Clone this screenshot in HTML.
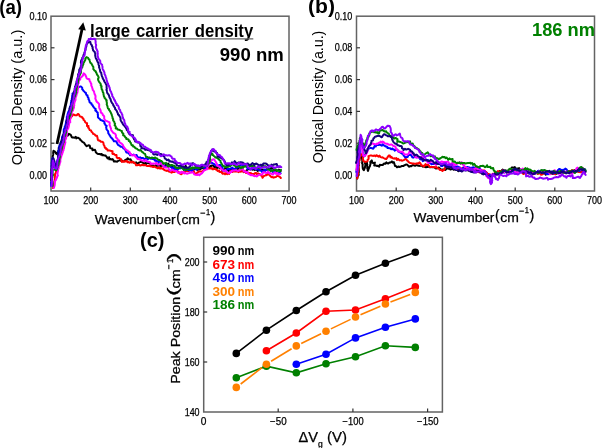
<!DOCTYPE html>
<html><head><meta charset="utf-8"><style>
html,body{margin:0;padding:0;background:#fff;width:602px;height:448px;overflow:hidden}
svg{display:block;will-change:transform}
text{font-family:"Liberation Sans", sans-serif}
text[font-weight=normal],g text:not([font-weight]){stroke:#000;stroke-width:0.25px}
</style></head><body>
<svg width="602" height="448" viewBox="0 0 602 448">
<rect x="51" y="16.2" width="238" height="174.8" fill="none" stroke="#636363" stroke-width="1.5"/>
<line x1="51" y1="175.0" x2="54.5" y2="175.0" stroke="#333" stroke-width="1.2"/>
<text x="47.1" y="178.6" font-size="10" font-weight="normal" fill="#000" text-anchor="end" textLength="17.6" lengthAdjust="spacingAndGlyphs" >0.00</text>
<line x1="51" y1="143.2" x2="54.5" y2="143.2" stroke="#333" stroke-width="1.2"/>
<text x="47.1" y="146.8" font-size="10" font-weight="normal" fill="#000" text-anchor="end" textLength="17.6" lengthAdjust="spacingAndGlyphs" >0.02</text>
<line x1="51" y1="111.4" x2="54.5" y2="111.4" stroke="#333" stroke-width="1.2"/>
<text x="47.1" y="115.0" font-size="10" font-weight="normal" fill="#000" text-anchor="end" textLength="17.6" lengthAdjust="spacingAndGlyphs" >0.04</text>
<line x1="51" y1="79.6" x2="54.5" y2="79.6" stroke="#333" stroke-width="1.2"/>
<text x="47.1" y="83.2" font-size="10" font-weight="normal" fill="#000" text-anchor="end" textLength="17.6" lengthAdjust="spacingAndGlyphs" >0.06</text>
<line x1="51" y1="47.8" x2="54.5" y2="47.8" stroke="#333" stroke-width="1.2"/>
<text x="47.1" y="51.4" font-size="10" font-weight="normal" fill="#000" text-anchor="end" textLength="17.6" lengthAdjust="spacingAndGlyphs" >0.08</text>
<text x="47.1" y="19.6" font-size="10" font-weight="normal" fill="#000" text-anchor="end" textLength="17.6" lengthAdjust="spacingAndGlyphs" >0.10</text>
<text x="51.0" y="204" font-size="10.2" font-weight="normal" fill="#000" text-anchor="middle" textLength="15.0" lengthAdjust="spacingAndGlyphs" >100</text>
<line x1="90.7" y1="191" x2="90.7" y2="187.5" stroke="#333" stroke-width="1.2"/>
<text x="90.7" y="204" font-size="10.2" font-weight="normal" fill="#000" text-anchor="middle" textLength="15.0" lengthAdjust="spacingAndGlyphs" >200</text>
<line x1="130.3" y1="191" x2="130.3" y2="187.5" stroke="#333" stroke-width="1.2"/>
<text x="130.3" y="204" font-size="10.2" font-weight="normal" fill="#000" text-anchor="middle" textLength="15.0" lengthAdjust="spacingAndGlyphs" >300</text>
<line x1="170.0" y1="191" x2="170.0" y2="187.5" stroke="#333" stroke-width="1.2"/>
<text x="170.0" y="204" font-size="10.2" font-weight="normal" fill="#000" text-anchor="middle" textLength="15.0" lengthAdjust="spacingAndGlyphs" >400</text>
<line x1="209.7" y1="191" x2="209.7" y2="187.5" stroke="#333" stroke-width="1.2"/>
<text x="209.7" y="204" font-size="10.2" font-weight="normal" fill="#000" text-anchor="middle" textLength="15.0" lengthAdjust="spacingAndGlyphs" >500</text>
<line x1="249.3" y1="191" x2="249.3" y2="187.5" stroke="#333" stroke-width="1.2"/>
<text x="249.3" y="204" font-size="10.2" font-weight="normal" fill="#000" text-anchor="middle" textLength="15.0" lengthAdjust="spacingAndGlyphs" >600</text>
<text x="289.0" y="204" font-size="10.2" font-weight="normal" fill="#000" text-anchor="middle" textLength="15.0" lengthAdjust="spacingAndGlyphs" >700</text>
<rect x="356.5" y="16.2" width="238.0" height="174.8" fill="none" stroke="#636363" stroke-width="1.5"/>
<line x1="356.5" y1="175.0" x2="360.0" y2="175.0" stroke="#333" stroke-width="1.2"/>
<text x="352.3" y="178.6" font-size="10" font-weight="normal" fill="#000" text-anchor="end" textLength="17.6" lengthAdjust="spacingAndGlyphs" >0.00</text>
<line x1="356.5" y1="143.2" x2="360.0" y2="143.2" stroke="#333" stroke-width="1.2"/>
<text x="352.3" y="146.8" font-size="10" font-weight="normal" fill="#000" text-anchor="end" textLength="17.6" lengthAdjust="spacingAndGlyphs" >0.02</text>
<line x1="356.5" y1="111.4" x2="360.0" y2="111.4" stroke="#333" stroke-width="1.2"/>
<text x="352.3" y="115.0" font-size="10" font-weight="normal" fill="#000" text-anchor="end" textLength="17.6" lengthAdjust="spacingAndGlyphs" >0.04</text>
<line x1="356.5" y1="79.6" x2="360.0" y2="79.6" stroke="#333" stroke-width="1.2"/>
<text x="352.3" y="83.2" font-size="10" font-weight="normal" fill="#000" text-anchor="end" textLength="17.6" lengthAdjust="spacingAndGlyphs" >0.06</text>
<line x1="356.5" y1="47.8" x2="360.0" y2="47.8" stroke="#333" stroke-width="1.2"/>
<text x="352.3" y="51.4" font-size="10" font-weight="normal" fill="#000" text-anchor="end" textLength="17.6" lengthAdjust="spacingAndGlyphs" >0.08</text>
<text x="352.3" y="19.6" font-size="10" font-weight="normal" fill="#000" text-anchor="end" textLength="17.6" lengthAdjust="spacingAndGlyphs" >0.10</text>
<text x="356.5" y="203.6" font-size="10.2" font-weight="normal" fill="#000" text-anchor="middle" textLength="15.0" lengthAdjust="spacingAndGlyphs" >100</text>
<line x1="396.2" y1="191" x2="396.2" y2="187.5" stroke="#333" stroke-width="1.2"/>
<text x="396.2" y="203.6" font-size="10.2" font-weight="normal" fill="#000" text-anchor="middle" textLength="15.0" lengthAdjust="spacingAndGlyphs" >200</text>
<line x1="435.8" y1="191" x2="435.8" y2="187.5" stroke="#333" stroke-width="1.2"/>
<text x="435.8" y="203.6" font-size="10.2" font-weight="normal" fill="#000" text-anchor="middle" textLength="15.0" lengthAdjust="spacingAndGlyphs" >300</text>
<line x1="475.5" y1="191" x2="475.5" y2="187.5" stroke="#333" stroke-width="1.2"/>
<text x="475.5" y="203.6" font-size="10.2" font-weight="normal" fill="#000" text-anchor="middle" textLength="15.0" lengthAdjust="spacingAndGlyphs" >400</text>
<line x1="515.2" y1="191" x2="515.2" y2="187.5" stroke="#333" stroke-width="1.2"/>
<text x="515.2" y="203.6" font-size="10.2" font-weight="normal" fill="#000" text-anchor="middle" textLength="15.0" lengthAdjust="spacingAndGlyphs" >500</text>
<line x1="554.8" y1="191" x2="554.8" y2="187.5" stroke="#333" stroke-width="1.2"/>
<text x="554.8" y="203.6" font-size="10.2" font-weight="normal" fill="#000" text-anchor="middle" textLength="15.0" lengthAdjust="spacingAndGlyphs" >600</text>
<text x="594.5" y="203.6" font-size="10.2" font-weight="normal" fill="#000" text-anchor="middle" textLength="15.0" lengthAdjust="spacingAndGlyphs" >700</text>
<text x="0" y="0" font-size="15" text-anchor="middle" textLength="135.4" lengthAdjust="spacingAndGlyphs" transform="translate(21.8,97.5) rotate(-90)">Optical Density (a.u.)</text>
<text x="0" y="0" font-size="15" text-anchor="middle" textLength="132.7" lengthAdjust="spacingAndGlyphs" transform="translate(323.2,97.0) rotate(-90)">Optical Density (a.u.)</text>
<g transform="translate(0,0)">
<text x="94.8" y="223.9" font-size="13.5" font-weight="normal" fill="#000" text-anchor="start" textLength="80.8" lengthAdjust="spacingAndGlyphs" >Wavenumber</text>
<text x="176.3" y="221.7" font-size="13.8" font-weight="normal" fill="#000" text-anchor="start" >(</text>
<text x="181.4" y="223.9" font-size="13.5" font-weight="normal" fill="#000" text-anchor="start" textLength="18.6" lengthAdjust="spacingAndGlyphs" >cm</text>
<rect x="200.4" y="212.6" width="4.7" height="1.1" fill="#000"/>
<text x="206.0" y="214.9" font-size="8.2" font-weight="normal" fill="#000" text-anchor="start" textLength="4.2" lengthAdjust="spacingAndGlyphs" >1</text>
<text x="210.6" y="221.8" font-size="14.4" font-weight="normal" fill="#000" text-anchor="start" >)</text>
</g>
<g transform="translate(318.8,-2)">
<text x="94.8" y="223.9" font-size="13.5" font-weight="normal" fill="#000" text-anchor="start" textLength="80.8" lengthAdjust="spacingAndGlyphs" >Wavenumber</text>
<text x="176.3" y="221.7" font-size="13.8" font-weight="normal" fill="#000" text-anchor="start" >(</text>
<text x="181.4" y="223.9" font-size="13.5" font-weight="normal" fill="#000" text-anchor="start" textLength="18.6" lengthAdjust="spacingAndGlyphs" >cm</text>
<rect x="200.4" y="212.6" width="4.7" height="1.1" fill="#000"/>
<text x="206.0" y="214.9" font-size="8.2" font-weight="normal" fill="#000" text-anchor="start" textLength="4.2" lengthAdjust="spacingAndGlyphs" >1</text>
<text x="210.6" y="221.8" font-size="14.4" font-weight="normal" fill="#000" text-anchor="start" >)</text>
</g>
<text x="-0.8" y="14.1" font-size="20" font-weight="bold" fill="#000" text-anchor="start" textLength="22.8" lengthAdjust="spacingAndGlyphs" >(a)</text>
<text x="308" y="13.2" font-size="20" font-weight="bold" fill="#000" text-anchor="start" textLength="27" lengthAdjust="spacingAndGlyphs" >(b)</text>
<text x="140" y="246.8" font-size="20" font-weight="bold" fill="#000" text-anchor="start" >(c)</text>
<text x="90.0" y="37.2" font-size="18.5" font-weight="bold" fill="#000" text-anchor="start" textLength="40.2" lengthAdjust="spacingAndGlyphs" >large</text>
<text x="136.0" y="37.2" font-size="18.5" font-weight="bold" fill="#000" text-anchor="start" textLength="52.2" lengthAdjust="spacingAndGlyphs" >carrier</text>
<text x="194.8" y="37.2" font-size="18.5" font-weight="bold" fill="#000" text-anchor="start" textLength="58.4" lengthAdjust="spacingAndGlyphs" >density</text>
<line x1="91" y1="38.9" x2="253.3" y2="38.9" stroke="#666" stroke-width="1.4"/>
<text x="219.8" y="61" font-size="17.5" font-weight="bold" fill="#000" text-anchor="start" textLength="64" lengthAdjust="spacingAndGlyphs" >990 nm</text>
<text x="532" y="35.6" font-size="17.5" font-weight="bold" fill="#008000" text-anchor="start" textLength="63" lengthAdjust="spacingAndGlyphs" >186 nm</text>
<g fill="none" stroke-width="2" stroke-linejoin="round" stroke-linecap="round">
<path d="M51.1,180.0 L51.2,179.0 L51.4,178.0 L51.2,177.0 L51.4,176.0 L51.5,175.0 L51.7,174.0 L51.4,173.0 L51.5,172.0 L51.6,171.0 L51.4,170.0 L51.5,169.0 L51.9,168.0 L52.0,167.0 L52.4,166.0 L52.3,165.0 L52.4,164.0 L52.8,163.0 L52.6,162.0 L52.6,161.0 L52.4,160.0 L52.3,159.0 L52.8,158.0 L52.6,157.0 L52.8,156.0 L53.1,155.0 L53.3,154.1 L53.2,153.1 L53.2,152.1 L53.5,150.8 L54.7,151.4 L55.4,152.3 L55.9,153.3 L57.4,154.3 L57.4,152.4 L58.2,151.7 L58.3,150.6 L58.6,149.7 L58.7,148.7 L58.8,147.6 L59.6,146.9 L59.8,145.9 L59.8,144.8 L60.7,144.1 L60.5,142.9 L60.9,142.0 L61.3,141.0 L61.6,139.9 L62.9,139.5 L63.0,138.4 L64.1,137.9 L64.4,136.8 L65.3,135.9 L66.5,135.2 L67.7,135.7 L68.9,133.8 L69.9,134.3 L70.9,135.1 L71.6,136.9 L72.5,137.6 L73.5,137.5 L74.5,137.7 L75.8,136.8 L76.3,138.4 L77.8,137.7 L78.7,138.2 L79.7,138.6 L80.2,139.8 L81.1,140.3 L81.7,141.2 L82.4,141.9 L83.3,142.3 L84.1,142.8 L84.7,143.8 L85.3,144.6 L85.9,145.5 L86.7,146.2 L88.4,145.3 L89.6,145.4 L90.0,146.6 L90.2,148.1 L91.2,148.4 L92.4,148.4 L92.5,150.2 L93.7,150.1 L95.0,149.8 L95.5,150.9 L95.8,152.3 L96.6,153.0 L97.4,153.6 L98.3,154.1 L99.6,153.9 L100.4,154.5 L101.8,154.0 L102.3,155.3 L103.5,155.1 L104.4,155.5 L105.5,155.5 L106.2,156.3 L106.9,157.2 L107.5,158.4 L109.1,157.2 L109.3,159.3 L110.5,158.9 L111.4,159.6 L112.6,159.1 L113.3,160.0 L114.0,161.6 L115.1,161.3 L116.2,161.4 L117.1,161.7 L118.3,160.8 L119.4,160.4 L120.5,159.9 L121.3,161.1 L122.4,160.7 L123.3,161.4 L124.3,160.9 L125.5,159.8 L126.4,160.1 L127.6,158.2 L128.5,159.2 L129.5,159.4 L130.5,159.3 L131.3,160.9 L132.3,161.8 L133.2,162.6 L134.2,162.5 L135.2,163.1 L136.2,162.3 L137.1,163.4 L138.1,163.5 L139.2,162.4 L140.2,162.1 L141.3,161.3 L142.2,162.4 L143.2,163.0 L144.1,163.8 L145.2,162.9 L146.1,164.1 L147.4,162.8 L148.4,163.1 L149.4,163.2 L150.4,163.4 L150.9,165.3 L151.8,165.8 L153.0,165.3 L153.7,166.4 L154.8,166.2 L155.9,165.3 L156.8,166.3 L158.1,164.2 L158.9,165.8 L160.1,164.4 L160.9,166.2 L162.0,165.5 L163.0,165.1 L163.8,166.6 L164.9,166.1 L166.1,164.5 L167.1,164.9 L168.2,163.5 L169.0,165.3 L170.0,165.2 L170.9,166.2 L171.9,165.9 L172.7,167.6 L173.7,167.7 L174.6,169.2 L175.6,169.3 L176.6,169.8 L177.7,168.2 L178.7,168.4 L179.7,167.5 L180.7,167.7 L181.7,166.6 L182.7,166.8 L183.7,167.3 L184.7,167.2 L185.7,165.9 L186.7,168.0 L187.7,169.5 L188.7,169.4 L189.7,168.7 L190.7,169.7 L191.7,170.1 L192.7,169.6 L193.7,169.9 L194.7,168.7 L195.7,168.7 L196.7,168.8 L197.7,169.9 L198.7,169.2 L199.7,169.6 L200.6,168.9 L201.6,168.0 L202.5,167.9 L203.7,168.8 L204.4,167.2 L205.3,166.8 L206.5,167.7 L207.0,166.7 L207.9,166.5 L209.7,167.3 L210.0,166.1 L211.2,166.2 L211.8,165.5 L212.7,165.6 L213.5,165.9 L214.2,166.9 L214.9,167.5 L216.3,166.7 L216.9,168.2 L218.2,167.4 L219.3,167.5 L220.1,168.1 L221.2,168.2 L222.0,168.8 L222.3,170.6 L223.7,169.8 L225.0,168.7 L225.9,167.7 L226.8,169.7 L227.8,170.0 L228.8,171.4 L229.8,169.7 L230.8,169.2 L231.8,169.4 L232.8,169.8 L233.8,169.8 L234.8,169.0 L235.8,168.6 L236.8,168.7 L237.8,169.0 L238.8,167.8 L239.8,167.7 L240.8,168.8 L241.8,169.6 L242.8,170.4 L243.8,172.1 L244.8,171.6 L245.8,171.1 L246.8,170.2 L247.8,169.3 L248.8,169.2 L249.8,169.3 L250.8,168.9 L251.8,169.4 L252.8,169.7 L253.8,169.2 L254.8,170.1 L255.8,169.1 L256.8,170.1 L257.7,170.9 L258.8,170.0 L259.8,169.8 L260.8,169.8 L261.8,169.8 L262.8,169.6 L263.8,169.8 L264.8,170.7 L265.8,169.8 L266.8,169.3 L267.8,169.5 L268.8,168.6 L269.8,168.7 L270.8,168.9 L271.9,168.0 L272.9,168.0 L273.8,170.0 L274.8,170.3 L275.7,170.9 L276.8,170.2 L277.8,170.6 L278.8,169.6 L279.8,170.2 L280.7,171.0" stroke="#000000"/>
<path d="M53.0,188.1 L53.3,187.1 L53.4,186.1 L53.5,185.1 L53.8,184.2 L54.2,183.2 L54.4,182.2 L54.4,181.2 L54.8,180.3 L54.7,179.2 L54.8,178.2 L54.8,177.2 L54.9,176.2 L55.1,175.2 L54.9,174.1 L55.7,173.3 L55.9,172.3 L56.1,171.3 L56.7,170.4 L57.0,169.5 L57.4,168.6 L57.2,167.5 L57.9,166.6 L58.3,165.7 L58.8,164.8 L59.1,163.8 L59.3,162.8 L59.1,161.8 L59.0,160.7 L59.7,159.8 L59.8,158.9 L60.2,157.9 L60.2,156.9 L60.3,155.9 L60.0,154.8 L60.5,153.9 L60.7,152.9 L61.3,152.0 L61.8,151.1 L62.2,150.2 L62.6,149.3 L62.9,148.3 L63.3,147.3 L63.4,146.3 L63.3,145.3 L63.4,144.3 L63.9,143.4 L63.8,142.3 L64.2,141.4 L64.3,140.4 L64.5,139.4 L64.8,138.4 L65.1,137.5 L65.3,136.5 L65.6,135.6 L65.4,134.5 L65.8,133.6 L66.1,132.6 L66.5,131.7 L66.1,130.6 L66.8,129.7 L66.8,128.7 L67.2,127.7 L67.3,126.7 L67.7,125.8 L68.0,124.9 L67.9,123.8 L68.2,122.9 L68.5,121.9 L68.6,120.9 L69.2,120.1 L69.6,119.1 L70.0,118.2 L70.9,117.7 L71.4,116.8 L72.2,116.1 L72.6,115.0 L73.5,114.4 L75.2,115.3 L76.2,115.3 L76.9,115.2 L77.5,114.2 L78.3,113.9 L78.9,114.6 L79.4,115.5 L79.9,116.4 L81.0,116.7 L82.2,117.1 L82.5,118.1 L83.4,118.7 L83.5,119.8 L84.4,120.5 L84.9,121.3 L85.3,122.3 L86.1,122.9 L87.1,123.3 L87.0,124.7 L87.0,125.9 L88.5,126.1 L88.1,127.7 L89.0,128.2 L89.3,129.3 L89.8,130.1 L91.1,130.4 L91.3,131.5 L92.1,132.2 L92.7,132.9 L93.1,133.9 L94.4,134.2 L95.0,134.9 L95.6,135.8 L97.0,135.8 L97.3,136.9 L97.6,138.0 L97.7,139.2 L98.1,140.2 L99.2,140.5 L100.2,141.0 L100.9,141.7 L102.3,141.8 L103.2,142.3 L103.5,143.4 L103.6,144.7 L104.2,145.5 L104.6,146.4 L104.8,147.7 L105.9,148.0 L106.1,149.1 L107.4,149.3 L107.6,150.5 L109.2,150.4 L110.4,150.7 L111.3,151.1 L112.6,151.2 L112.3,152.9 L112.6,154.0 L114.0,153.8 L114.6,154.7 L115.4,155.1 L116.5,155.0 L116.6,157.2 L117.4,158.2 L118.5,158.0 L119.5,158.1 L120.2,159.2 L121.2,159.3 L121.4,161.0 L122.0,162.0 L123.5,161.0 L124.2,161.8 L125.7,161.3 L127.0,160.9 L127.4,162.3 L128.6,162.1 L129.5,162.7 L130.9,161.6 L131.7,162.5 L132.9,161.7 L133.7,162.7 L134.6,162.9 L135.5,163.8 L136.1,165.3 L137.2,165.3 L138.2,165.1 L139.4,164.5 L140.2,165.6 L141.3,165.2 L142.4,164.7 L143.3,165.3 L144.4,165.1 L145.3,165.3 L146.3,165.5 L147.2,166.1 L148.3,166.0 L149.4,165.5 L150.2,166.3 L151.2,166.5 L152.2,166.5 L153.1,167.1 L154.3,166.4 L155.2,166.7 L156.1,167.6 L157.1,167.8 L158.0,168.4 L159.2,167.2 L160.0,168.6 L161.2,167.8 L162.0,168.7 L163.1,168.4 L163.8,169.7 L164.8,170.2 L165.7,170.4 L166.6,170.9 L167.8,170.4 L168.6,171.3 L169.6,171.8 L170.6,171.6 L171.4,172.6 L172.6,172.0 L173.6,171.8 L174.6,172.0 L175.7,171.2 L176.8,171.1 L177.7,171.2 L178.6,172.4 L179.6,173.1 L180.5,174.0 L181.5,174.3 L182.6,172.6 L183.6,172.5 L184.6,172.4 L185.6,171.0 L186.6,170.8 L187.6,171.2 L188.6,171.0 L189.6,170.8 L190.5,170.0 L191.5,169.7 L192.6,170.8 L193.6,171.1 L194.6,172.8 L195.7,174.1 L196.7,173.2 L197.6,172.3 L198.6,171.7 L199.6,171.4 L200.6,171.4 L201.6,171.5 L202.6,171.7 L203.3,170.4 L204.2,170.1 L205.1,169.7 L205.7,168.6 L206.5,168.4 L207.6,168.6 L208.8,168.6 L210.1,168.6 L210.9,168.0 L211.8,168.3 L212.2,169.2 L212.8,168.3 L213.3,169.2 L214.3,168.9 L215.5,168.7 L216.1,169.8 L217.1,170.0 L217.6,170.9 L219.1,170.4 L219.2,171.7 L220.2,172.0 L221.8,171.7 L222.0,173.1 L222.7,173.8 L224.3,173.2 L225.0,174.3 L226.2,172.9 L227.1,174.1 L227.9,173.1 L229.1,173.9 L229.6,172.2 L230.2,171.0 L231.5,171.7 L232.7,172.0 L233.2,170.6 L234.7,171.6 L235.7,171.5 L236.6,171.2 L237.7,171.6 L238.7,172.1 L239.5,170.6 L240.4,171.7 L241.3,171.6 L242.5,170.4 L243.2,171.8 L244.2,172.0 L245.5,171.0 L245.9,173.0 L247.1,172.6 L248.1,172.6 L248.9,173.5 L250.1,173.0 L251.1,173.2 L251.9,173.9 L252.9,174.0 L253.9,174.1 L255.2,173.1 L256.1,172.9 L256.9,174.1 L258.0,173.2 L258.9,174.1 L259.9,174.1 L260.8,175.4 L261.8,175.8 L262.6,177.8 L263.8,176.0 L264.8,175.8 L265.9,175.0 L266.8,175.2 L268.0,173.5 L268.9,174.6 L269.8,175.4 L270.8,176.7 L271.7,177.2 L272.7,177.1 L273.7,177.7 L274.8,177.2 L275.8,177.1 L276.8,176.1 L277.8,175.7 L278.8,176.4 L279.8,176.8 L280.8,178.0" stroke="#ff0000"/>
<path d="M51.2,186.0 L51.1,185.0 L51.1,184.0 L51.1,183.0 L51.2,182.0 L51.9,181.0 L52.1,180.0 L52.2,179.0 L51.8,178.0 L51.8,177.0 L52.1,176.0 L51.6,175.0 L51.6,174.0 L51.4,173.0 L51.6,172.0 L51.6,171.0 L51.9,170.0 L51.7,169.0 L51.8,168.0 L51.5,167.0 L51.7,166.0 L51.6,165.0 L51.6,164.0 L51.5,163.0 L52.0,162.0 L51.8,161.0 L52.2,160.0 L52.2,159.0 L52.7,158.1 L53.2,158.8 L52.8,157.9 L53.0,158.8 L53.3,159.8 L53.5,160.8 L53.7,161.7 L54.2,162.6 L54.6,163.6 L55.0,164.5 L55.5,165.0 L55.0,165.1 L56.0,164.8 L56.1,163.8 L56.7,162.9 L57.0,161.9 L57.1,161.0 L57.8,160.1 L57.8,159.1 L58.3,158.2 L58.6,157.2 L58.4,156.1 L58.4,155.1 L58.4,154.1 L58.8,153.2 L58.4,152.0 L58.4,151.0 L59.0,150.1 L59.2,149.1 L59.4,148.1 L59.3,147.1 L59.3,146.1 L59.9,145.2 L60.3,144.3 L60.7,143.3 L61.2,142.4 L61.6,141.5 L62.0,140.5 L62.0,139.5 L62.0,138.5 L62.0,137.5 L62.3,136.5 L63.0,135.7 L63.4,134.7 L63.8,133.8 L63.7,132.7 L63.7,131.7 L63.8,130.7 L63.8,129.7 L64.2,128.7 L64.7,127.8 L64.7,126.8 L65.1,125.9 L65.5,124.9 L65.7,123.9 L66.0,123.0 L65.9,122.0 L66.3,121.0 L66.5,120.0 L66.8,119.1 L66.8,118.0 L66.8,117.0 L67.3,116.1 L67.4,115.1 L67.6,114.1 L67.9,113.2 L68.3,112.2 L68.6,111.3 L69.3,110.4 L69.5,109.4 L69.6,108.4 L69.9,107.5 L70.1,106.5 L70.5,105.6 L70.9,104.6 L70.9,103.6 L71.0,102.6 L71.3,101.6 L71.3,100.6 L71.9,99.7 L71.8,98.7 L72.2,97.7 L72.1,96.7 L72.2,95.7 L72.4,94.7 L72.5,93.7 L73.6,93.0 L74.2,92.3 L74.8,91.5 L75.1,90.5 L75.1,89.3 L75.7,88.4 L76.2,87.4 L77.7,87.6 L78.4,86.8 L79.5,86.9 L80.6,86.4 L81.6,87.0 L82.3,88.0 L82.2,89.2 L83.0,89.9 L83.4,90.8 L84.3,91.5 L84.9,92.3 L85.9,92.9 L86.0,93.9 L86.4,94.8 L87.5,95.3 L87.5,96.5 L88.0,97.4 L88.6,98.1 L88.5,99.4 L89.2,100.2 L89.4,101.2 L89.6,102.2 L90.5,102.9 L91.5,103.4 L91.5,104.6 L92.6,105.1 L92.9,106.1 L93.5,106.9 L94.1,107.7 L94.9,108.4 L95.7,109.1 L95.3,110.5 L96.3,111.0 L96.7,111.9 L97.7,112.5 L97.7,113.7 L97.8,114.8 L98.0,115.9 L97.9,117.2 L98.5,117.9 L99.3,118.6 L100.1,119.3 L100.6,120.1 L102.0,120.4 L102.9,121.0 L104.1,121.4 L104.5,122.4 L104.4,123.6 L105.2,124.3 L105.6,125.3 L106.7,125.8 L106.1,127.3 L106.4,128.3 L106.5,129.4 L107.2,130.1 L107.9,130.9 L108.3,131.8 L108.2,132.9 L108.7,133.8 L109.4,134.6 L109.7,135.6 L110.4,136.3 L110.7,137.3 L111.6,138.0 L112.4,138.6 L112.7,139.6 L113.5,140.3 L113.9,141.3 L115.4,141.3 L116.5,141.5 L116.7,142.6 L117.3,143.4 L117.7,144.5 L118.5,145.2 L119.5,145.4 L120.1,146.3 L121.0,146.8 L122.2,146.8 L122.9,147.6 L123.4,148.5 L124.6,148.7 L125.1,149.6 L125.6,150.7 L126.0,151.7 L126.6,152.6 L128.0,152.4 L128.6,153.4 L129.4,154.0 L130.1,155.2 L131.3,154.9 L132.3,155.1 L133.6,154.6 L134.4,155.3 L135.4,155.6 L136.6,155.0 L137.2,156.3 L138.0,157.3 L138.9,157.8 L140.1,157.3 L140.9,158.0 L142.0,157.9 L143.0,157.9 L143.8,158.8 L144.8,158.9 L146.1,158.1 L146.9,158.7 L147.8,159.4 L149.4,157.5 L150.1,158.5 L151.1,158.8 L152.2,158.7 L153.1,159.0 L154.1,159.0 L154.8,160.5 L155.8,160.3 L156.5,161.7 L157.7,161.2 L158.5,162.0 L159.6,161.8 L160.9,161.1 L161.5,162.4 L161.9,164.4 L162.7,165.2 L163.5,165.7 L164.6,165.6 L165.2,166.9 L166.2,167.2 L167.8,165.5 L168.8,165.8 L169.7,166.3 L170.6,166.8 L171.4,167.7 L172.3,168.0 L173.5,167.4 L174.1,169.2 L175.0,169.9 L176.2,169.4 L177.0,170.2 L178.5,168.3 L179.5,168.0 L180.5,168.4 L181.6,167.1 L182.5,167.3 L183.4,169.0 L184.4,168.3 L185.4,170.3 L186.4,169.5 L187.4,169.3 L188.4,170.2 L189.4,170.0 L190.4,170.2 L191.5,170.9 L192.5,170.2 L193.4,169.0 L194.3,168.5 L195.3,168.4 L196.5,169.8 L197.3,168.4 L198.4,168.5 L199.3,168.2 L200.1,167.0 L201.0,166.6 L201.9,166.5 L203.4,167.6 L204.7,168.2 L205.6,167.6 L206.2,166.5 L207.2,166.3 L208.0,165.4 L208.3,164.2 L208.9,163.3 L210.1,163.2 L210.6,162.1 L211.8,162.8 L212.5,163.2 L213.2,163.6 L214.0,164.0 L214.7,164.7 L215.4,165.3 L216.5,165.4 L217.6,165.6 L219.1,165.1 L220.5,165.1 L221.0,166.1 L221.7,166.8 L222.5,167.3 L222.5,169.0 L222.9,170.5 L224.2,170.8 L225.5,170.6 L226.5,170.5 L227.4,169.1 L228.3,168.9 L229.5,169.4 L230.3,168.6 L231.4,168.6 L232.1,167.6 L233.4,168.7 L234.5,168.8 L235.6,169.2 L236.2,167.5 L237.2,167.4 L238.1,167.2 L239.1,166.6 L240.1,165.2 L241.1,164.9 L242.2,164.4 L243.1,166.6 L244.2,165.6 L245.2,165.9 L246.2,166.1 L247.0,167.4 L247.7,168.8 L248.8,168.6 L249.8,168.5 L250.7,169.3 L251.9,168.6 L252.9,168.3 L254.0,168.3 L254.9,168.9 L255.9,168.9 L256.8,169.5 L257.9,169.1 L258.8,169.6 L259.7,170.4 L260.7,170.5 L261.6,171.3 L262.5,172.4 L263.7,170.4 L264.8,169.4 L265.7,170.5 L266.8,169.4 L267.8,169.8 L268.9,168.8 L269.8,169.8 L270.8,169.9 L271.7,170.4 L272.6,171.8 L273.6,172.6 L274.6,172.1 L275.6,171.9 L276.6,172.7 L277.6,172.9 L278.6,172.9 L279.6,172.7 L280.6,173.4" stroke="#0000ff"/>
<path d="M53.7,188.0 L54.1,187.1 L54.4,186.1 L54.7,185.2 L54.8,184.2 L54.8,183.1 L54.8,182.1 L55.0,181.1 L55.7,180.3 L56.2,179.3 L56.5,178.4 L57.0,177.5 L57.1,176.5 L57.9,175.6 L57.5,174.5 L57.5,173.5 L57.6,172.5 L57.8,171.5 L58.1,170.5 L57.9,169.5 L58.6,168.6 L58.6,167.6 L58.8,166.6 L59.2,165.7 L59.5,164.7 L59.6,163.7 L59.9,162.8 L60.4,161.8 L60.3,160.8 L60.4,159.8 L60.4,158.8 L60.9,157.8 L61.2,156.9 L61.4,155.9 L61.7,155.0 L62.2,154.1 L62.4,153.1 L62.8,152.1 L62.9,151.1 L63.5,150.3 L63.5,149.2 L64.0,148.3 L64.1,147.3 L64.3,146.3 L64.5,145.3 L64.9,144.4 L65.1,143.4 L65.4,142.5 L65.2,141.4 L65.1,140.3 L65.5,139.4 L66.0,138.5 L66.2,137.5 L66.2,136.5 L66.6,135.6 L66.9,134.6 L66.7,133.5 L66.6,132.5 L66.7,131.5 L66.9,130.5 L67.4,129.6 L67.9,128.7 L68.5,127.8 L68.5,126.8 L68.9,125.8 L69.0,124.8 L69.2,123.9 L69.4,122.9 L70.3,122.1 L70.0,121.0 L70.2,120.0 L70.3,119.0 L70.4,118.0 L70.9,117.1 L71.2,116.1 L71.4,115.1 L71.5,114.1 L71.9,113.2 L71.5,112.1 L72.4,111.2 L73.0,110.4 L73.2,109.4 L73.5,108.4 L74.0,107.5 L73.9,106.5 L74.3,105.5 L74.1,104.5 L74.3,103.5 L74.5,102.5 L74.8,101.5 L75.3,100.6 L75.5,99.7 L75.5,98.6 L75.4,97.6 L76.0,96.7 L76.3,95.7 L76.6,94.8 L76.7,93.8 L77.3,92.9 L77.5,91.9 L77.6,90.9 L77.7,89.9 L77.9,88.9 L78.2,87.9 L78.4,86.9 L77.9,85.9 L77.9,84.9 L77.8,83.8 L78.8,83.0 L78.3,81.9 L78.9,81.0 L79.3,80.1 L80.2,79.4 L80.3,78.4 L80.6,77.5 L81.6,77.1 L82.1,76.2 L82.9,75.6 L83.6,73.4 L85.1,74.5 L85.7,75.9 L86.2,76.7 L86.4,77.9 L87.1,78.7 L88.2,78.9 L89.4,79.3 L89.5,80.5 L89.9,81.4 L90.5,82.2 L90.8,83.1 L91.4,84.0 L91.2,85.1 L91.5,86.0 L92.0,86.9 L92.2,87.9 L92.6,88.8 L92.7,89.9 L93.4,90.7 L94.0,91.5 L94.2,92.5 L94.5,93.5 L94.7,94.4 L95.3,95.3 L95.5,96.3 L95.5,97.3 L95.3,98.5 L95.7,99.4 L96.2,100.3 L96.4,101.3 L97.1,102.1 L98.1,102.8 L98.7,103.6 L99.2,104.5 L99.2,105.6 L99.1,106.7 L99.3,107.7 L99.6,108.6 L100.2,109.4 L100.5,110.4 L100.8,111.4 L100.8,112.5 L101.9,113.1 L102.5,113.8 L102.7,114.9 L103.6,115.6 L104.2,116.4 L104.2,117.7 L104.3,118.8 L104.7,119.7 L105.3,120.4 L106.2,120.9 L107.4,121.3 L108.5,121.8 L109.6,122.4 L109.7,123.5 L109.5,124.6 L109.8,125.6 L110.3,126.5 L110.5,127.5 L111.0,128.4 L111.1,129.4 L111.3,130.4 L112.0,131.2 L112.6,132.0 L113.3,132.8 L114.4,133.4 L115.4,134.0 L115.7,134.9 L116.0,135.8 L115.8,137.0 L116.4,137.9 L117.2,138.4 L117.7,139.4 L117.6,140.7 L119.2,140.6 L119.2,141.9 L120.0,142.6 L120.8,143.2 L121.7,143.7 L122.4,144.5 L123.0,145.2 L123.4,146.2 L123.9,147.2 L124.5,148.0 L125.3,148.6 L125.7,149.6 L126.7,150.1 L127.7,150.4 L128.0,151.6 L129.2,151.8 L129.9,152.5 L130.0,154.0 L131.2,154.1 L131.5,155.3 L132.7,155.5 L134.2,155.0 L135.1,155.5 L135.4,156.8 L136.2,157.4 L136.9,158.2 L137.6,159.0 L138.8,159.1 L139.7,159.5 L140.6,159.8 L141.5,160.4 L142.5,160.7 L143.7,160.2 L144.4,161.3 L145.8,160.0 L146.6,161.0 L147.4,161.8 L148.4,161.8 L149.4,161.9 L150.3,162.6 L151.0,164.0 L152.1,163.7 L153.2,163.4 L154.1,163.9 L155.2,163.5 L156.4,162.8 L157.1,164.2 L158.0,164.7 L159.1,164.6 L160.5,163.7 L161.9,163.0 L162.3,164.7 L163.2,165.1 L163.7,166.6 L164.3,167.6 L165.4,167.5 L166.7,167.2 L167.8,167.1 L168.5,168.0 L168.9,169.5 L169.8,170.1 L170.6,170.7 L172.1,169.6 L173.0,170.1 L173.8,170.8 L174.9,170.7 L175.8,171.1 L176.8,171.1 L177.5,172.2 L178.3,173.1 L179.6,172.0 L180.3,173.2 L181.6,171.8 L182.4,172.8 L183.4,171.9 L184.3,173.5 L185.2,173.3 L186.2,173.3 L187.2,173.8 L188.2,173.4 L189.2,173.0 L190.2,172.5 L191.2,172.7 L192.2,172.1 L193.2,172.6 L194.3,174.4 L195.3,174.7 L196.3,174.7 L197.3,175.1 L198.3,174.2 L199.4,175.3 L200.3,174.1 L201.4,173.7 L202.2,173.0 L202.8,171.9 L203.5,171.2 L204.1,170.5 L205.0,170.1 L205.9,169.6 L207.1,169.3 L207.5,168.3 L207.2,167.1 L207.9,166.4 L208.7,165.6 L208.9,164.6 L209.5,163.8 L209.8,162.8 L210.3,161.9 L211.1,161.3 L211.4,160.4 L212.2,159.7 L213.8,159.2 L214.7,160.1 L215.2,161.2 L215.9,161.9 L216.2,163.0 L216.9,163.7 L216.7,165.1 L217.4,165.9 L218.5,166.2 L219.4,166.8 L220.3,167.3 L220.8,168.2 L221.2,169.2 L222.3,169.5 L222.9,170.3 L223.7,170.8 L225.3,170.1 L225.5,171.1 L226.1,171.0 L226.7,172.0 L227.7,172.8 L228.7,172.8 L229.8,173.0 L230.4,171.7 L231.6,171.9 L232.1,170.5 L233.1,170.4 L234.3,170.6 L235.2,170.2 L236.3,170.2 L237.4,170.8 L238.3,170.9 L239.1,170.6 L240.0,169.2 L240.8,169.8 L242.1,168.7 L243.1,169.0 L243.5,170.8 L244.1,171.6 L245.4,171.2 L245.8,172.5 L247.3,171.9 L247.9,172.8 L248.4,174.1 L249.4,174.3 L250.3,174.8 L251.2,175.3 L252.5,174.9 L253.3,175.7 L254.3,176.2 L255.5,175.9 L256.5,176.5 L257.6,175.9 L258.5,174.9 L259.4,174.7 L260.4,174.7 L261.4,174.4 L262.4,174.6 L262.9,172.5 L263.9,172.2 L265.0,172.6 L266.2,173.0 L267.2,172.7 L268.0,171.4 L269.3,173.5 L270.3,173.2 L271.3,173.4 L272.3,174.5 L273.2,174.4 L274.3,172.8 L275.3,172.4 L276.2,174.0 L277.3,172.7 L278.2,174.6 L279.2,174.3 L280.2,174.0" stroke="#ff00ff"/>
<path d="M52.5,186.0 L52.6,185.0 L52.4,184.0 L52.6,183.0 L52.5,182.0 L52.2,181.0 L52.1,180.0 L51.8,179.0 L51.8,178.0 L52.5,177.0 L52.4,176.0 L52.9,175.0 L52.6,174.0 L52.7,173.0 L52.5,172.0 L52.6,171.0 L52.8,170.0 L52.5,169.0 L52.3,168.0 L53.0,167.0 L52.7,166.0 L52.8,165.0 L52.8,164.0 L52.6,161.6 L53.6,163.8 L53.9,164.7 L54.3,165.7 L54.4,166.7 L54.7,167.6 L54.9,168.6 L54.9,169.9 L56.3,170.3 L56.9,169.1 L57.0,168.1 L57.6,167.2 L57.4,166.1 L58.3,165.3 L58.6,164.3 L58.7,163.4 L58.7,162.3 L59.2,161.4 L59.3,160.4 L59.4,159.4 L59.6,158.4 L59.8,157.4 L60.2,156.5 L59.8,155.4 L60.0,154.4 L60.3,153.4 L60.2,152.4 L60.7,151.5 L61.3,150.6 L61.4,149.6 L61.8,148.7 L61.8,147.6 L62.3,146.7 L62.2,145.7 L62.6,144.7 L63.0,143.8 L63.3,142.8 L63.8,141.9 L63.9,140.9 L63.9,139.9 L64.2,138.9 L64.2,137.9 L64.2,136.9 L65.0,136.1 L65.3,135.1 L65.4,134.1 L65.7,133.1 L66.3,132.3 L66.1,131.2 L66.0,130.1 L66.0,129.1 L66.5,128.2 L66.2,127.1 L66.3,126.1 L67.2,125.3 L67.5,124.3 L67.6,123.3 L67.9,122.3 L67.8,121.3 L68.2,120.4 L68.4,119.4 L69.0,118.5 L69.3,117.6 L69.5,116.6 L70.0,115.7 L70.5,114.8 L70.6,113.8 L70.6,112.7 L71.0,111.8 L71.4,110.8 L71.9,109.9 L72.0,108.9 L72.4,108.0 L72.3,107.0 L72.3,105.9 L72.3,104.9 L72.4,103.9 L72.6,102.9 L72.9,102.0 L73.1,101.0 L73.3,100.0 L73.8,99.1 L74.1,98.1 L74.4,97.2 L74.9,96.3 L75.1,95.3 L75.6,94.4 L75.5,93.3 L76.3,92.5 L75.9,91.4 L76.1,90.4 L76.6,89.5 L76.5,88.4 L76.8,87.5 L77.0,86.5 L77.1,85.5 L77.3,84.5 L77.7,83.6 L78.0,82.6 L78.1,81.6 L78.2,80.6 L78.3,79.6 L78.8,78.7 L78.5,77.6 L79.0,76.7 L79.4,75.8 L79.9,74.8 L80.3,73.9 L80.8,73.0 L81.0,72.1 L81.1,71.0 L80.8,69.9 L81.3,69.0 L81.6,68.0 L82.3,67.2 L82.5,66.2 L82.8,65.3 L83.3,64.4 L83.3,63.3 L83.9,62.5 L84.4,61.6 L84.8,60.7 L85.4,59.8 L85.3,58.5 L86.5,57.1 L88.1,57.8 L88.6,59.1 L89.5,59.7 L89.7,60.8 L90.0,61.8 L90.3,62.8 L91.4,63.3 L91.7,64.3 L92.3,65.1 L92.7,66.0 L93.3,66.9 L93.4,68.0 L93.3,69.1 L94.0,69.9 L94.6,70.7 L95.8,71.3 L95.9,72.3 L96.6,73.1 L96.8,74.1 L97.3,75.0 L98.0,75.8 L98.4,76.7 L98.7,77.6 L98.0,79.0 L98.2,80.0 L98.6,80.9 L99.1,81.8 L99.7,82.6 L100.4,83.4 L100.8,84.4 L100.7,85.4 L101.6,86.2 L101.3,87.3 L101.6,88.3 L101.7,89.3 L102.4,90.2 L102.6,91.2 L102.8,92.1 L103.5,93.0 L103.4,94.0 L103.7,95.0 L103.8,96.0 L104.3,96.9 L104.6,97.9 L105.4,98.6 L105.8,99.6 L106.7,100.3 L106.5,101.4 L106.8,102.4 L106.9,103.4 L106.7,104.6 L107.2,105.5 L107.5,106.4 L107.7,107.5 L108.0,108.4 L109.0,109.1 L109.1,110.1 L109.8,110.8 L110.3,111.7 L110.8,112.6 L111.2,113.5 L111.6,114.4 L111.9,115.4 L112.2,116.3 L112.5,117.3 L112.6,118.3 L113.2,119.1 L113.1,120.2 L113.7,121.1 L114.3,121.9 L114.5,123.0 L115.1,123.8 L114.6,125.3 L115.4,126.0 L115.9,126.9 L115.7,128.4 L117.2,128.5 L117.6,129.6 L118.9,129.7 L119.9,130.1 L120.8,130.6 L121.8,131.0 L122.0,132.3 L122.6,133.1 L123.4,133.7 L123.1,135.2 L124.2,135.6 L124.8,136.4 L125.3,137.3 L126.3,137.8 L126.3,139.1 L127.7,139.2 L128.6,139.7 L128.8,141.0 L129.9,141.3 L130.2,142.4 L130.9,143.0 L131.2,144.1 L131.6,145.2 L132.9,145.3 L133.1,146.5 L134.4,146.7 L134.8,147.6 L135.6,148.3 L136.8,148.6 L137.5,149.3 L138.2,149.9 L139.2,150.4 L140.7,150.1 L141.3,150.9 L141.8,151.8 L142.8,152.1 L143.4,153.0 L144.1,153.6 L145.1,153.9 L145.5,155.3 L146.1,156.8 L147.2,156.9 L148.1,157.6 L149.1,157.7 L150.0,158.1 L151.1,158.0 L152.2,157.5 L153.1,158.0 L154.2,158.0 L155.3,157.5 L156.1,158.2 L157.2,158.4 L157.8,159.5 L158.6,160.0 L159.7,160.1 L160.5,160.6 L161.4,161.0 L162.2,161.7 L162.8,162.8 L163.3,163.8 L164.8,163.2 L166.1,162.9 L166.8,163.7 L167.4,164.7 L167.7,166.2 L168.7,166.5 L170.4,165.5 L171.7,165.0 L172.7,165.3 L173.6,165.7 L174.6,165.8 L175.1,167.3 L176.2,167.3 L176.9,168.2 L178.0,168.1 L179.1,168.0 L180.3,167.0 L181.3,167.1 L182.0,168.2 L183.0,168.5 L183.8,169.9 L184.9,168.9 L185.9,169.9 L186.9,169.6 L187.9,169.0 L188.9,168.9 L189.9,169.2 L190.8,168.0 L191.9,168.6 L192.7,167.3 L193.8,168.4 L194.7,167.3 L195.8,167.7 L196.8,167.9 L197.7,167.3 L198.9,168.4 L199.7,167.4 L200.8,167.6 L201.7,167.0 L202.7,167.1 L203.6,166.9 L204.3,165.7 L205.5,166.2 L206.2,165.6 L207.4,165.7 L207.0,164.4 L208.2,163.8 L208.9,163.0 L209.6,162.2 L209.8,161.2 L209.8,160.1 L210.2,159.2 L210.0,158.1 L209.9,157.1 L210.0,156.0 L210.3,155.0 L211.4,154.4 L211.6,153.5 L212.4,153.8 L212.5,155.0 L213.3,155.2 L213.8,156.0 L214.7,156.5 L215.3,157.3 L216.4,157.7 L217.4,158.2 L218.2,158.8 L218.9,159.5 L219.7,160.2 L220.5,160.8 L220.5,162.1 L221.2,162.9 L221.6,163.8 L222.3,164.6 L222.6,165.9 L223.9,166.1 L224.9,167.0 L226.1,166.9 L227.1,166.8 L228.1,167.0 L229.0,164.7 L230.1,166.4 L231.0,165.1 L232.0,164.2 L233.0,164.3 L234.1,165.5 L235.1,165.7 L236.1,167.2 L237.1,166.5 L238.1,166.1 L239.1,166.0 L240.0,167.2 L241.0,168.2 L242.0,166.8 L242.9,167.7 L243.9,166.9 L245.0,166.0 L246.0,166.7 L247.2,165.1 L248.2,164.8 L249.1,165.9 L250.1,165.8 L251.1,165.9 L252.1,166.0 L253.2,165.8 L253.9,167.3 L255.0,167.1 L255.8,168.0 L256.9,167.9 L258.0,167.3 L258.9,168.2 L259.9,168.0 L261.0,167.5 L262.2,166.1 L263.2,165.6 L264.1,166.5 L265.2,166.2 L266.1,166.8 L266.9,168.3 L267.8,169.2 L268.8,169.6 L269.7,169.7 L270.5,171.1 L271.7,170.2 L272.6,170.8 L273.7,170.4 L274.9,169.1 L275.8,169.5 L276.6,170.9 L277.7,170.8 L278.7,170.4 L279.6,171.4 L280.9,169.8" stroke="#008000"/>
<path d="M51.8,185.0 L51.9,184.0 L51.6,183.0 L51.7,182.0 L52.0,181.0 L52.0,180.0 L51.8,179.0 L52.1,178.0 L51.9,177.0 L51.4,176.0 L51.1,175.0 L51.6,174.0 L51.6,173.0 L52.1,172.0 L52.2,171.0 L52.3,170.0 L52.0,169.0 L51.9,168.0 L51.9,167.0 L51.6,166.0 L52.0,165.0 L52.3,164.0 L51.9,163.0 L52.2,162.0 L52.5,161.0 L52.9,160.1 L52.8,159.1 L52.8,158.1 L53.6,158.6 L53.8,159.7 L54.2,160.6 L54.6,161.6 L54.4,162.6 L54.5,163.6 L54.2,164.7 L54.6,165.6 L54.5,167.1 L56.7,168.0 L56.3,165.9 L56.4,164.9 L56.6,163.9 L57.1,163.0 L57.1,161.9 L57.6,161.0 L57.6,160.0 L57.9,159.0 L58.1,158.1 L58.0,157.0 L58.1,156.0 L58.1,155.0 L58.9,154.2 L59.4,153.2 L59.7,152.3 L59.6,151.2 L59.9,150.3 L60.3,149.3 L60.4,148.3 L60.8,147.4 L60.4,146.3 L60.6,145.3 L60.6,144.3 L60.8,143.3 L61.5,142.4 L61.8,141.5 L62.1,140.5 L62.5,139.6 L62.3,138.5 L63.0,137.7 L62.8,136.6 L62.9,135.6 L63.3,134.6 L63.8,133.7 L64.0,132.7 L64.4,131.8 L65.0,130.9 L65.4,130.0 L66.0,129.1 L65.8,128.0 L66.4,127.2 L66.6,126.2 L66.8,125.2 L66.8,124.2 L66.7,123.1 L66.6,122.1 L66.4,121.0 L66.8,120.0 L67.3,119.1 L67.7,118.2 L67.8,117.2 L68.2,116.3 L68.6,115.4 L69.1,114.4 L69.5,113.5 L69.8,112.5 L70.0,111.6 L69.5,110.4 L69.6,109.4 L69.7,108.4 L70.0,107.4 L70.5,106.6 L71.3,105.7 L71.5,104.7 L72.1,103.8 L72.1,102.8 L72.2,101.8 L72.2,100.8 L72.4,99.8 L72.4,98.8 L72.5,97.8 L73.0,96.9 L73.1,95.9 L73.0,94.8 L73.5,93.9 L73.6,92.9 L73.9,91.9 L74.3,91.0 L74.9,90.1 L74.6,89.0 L75.0,88.1 L74.9,87.0 L75.4,86.1 L75.9,85.2 L75.8,84.2 L76.4,83.3 L76.4,82.3 L76.6,81.3 L77.0,80.3 L77.4,79.4 L77.6,78.4 L77.8,77.4 L78.0,76.5 L78.1,75.5 L78.1,74.4 L78.7,73.5 L79.0,72.6 L79.2,71.6 L79.2,70.6 L79.3,69.6 L79.9,68.7 L80.4,67.8 L80.8,66.9 L80.8,65.8 L81.2,64.9 L81.3,63.9 L80.9,62.8 L81.0,61.7 L81.1,60.7 L81.6,59.8 L82.3,59.0 L82.2,57.9 L83.1,57.1 L83.4,56.2 L83.4,55.1 L84.1,54.3 L84.3,53.3 L84.5,52.3 L84.9,51.4 L85.1,50.4 L85.6,49.6 L85.6,48.5 L85.9,47.5 L86.3,46.6 L86.4,45.6 L86.6,44.5 L87.2,43.7 L87.8,42.7 L88.9,41.9 L90.4,42.1 L90.6,43.6 L91.1,44.5 L91.9,45.2 L92.0,46.3 L92.7,47.1 L92.5,48.2 L92.9,49.1 L93.0,50.2 L93.7,51.0 L94.7,51.7 L94.7,52.7 L95.4,53.5 L95.2,54.7 L95.2,55.7 L95.5,56.7 L95.7,57.7 L96.0,58.6 L96.7,59.4 L97.0,60.4 L97.3,61.3 L97.8,62.2 L98.5,63.1 L98.4,64.1 L98.8,65.1 L99.2,66.0 L99.0,67.1 L99.4,68.0 L99.7,69.0 L100.0,69.9 L100.1,71.0 L100.3,71.9 L101.3,72.7 L101.3,73.7 L101.6,74.7 L101.7,75.7 L102.1,76.6 L102.6,77.5 L102.8,78.5 L103.4,79.4 L103.9,80.2 L104.2,81.2 L104.7,82.1 L105.4,82.9 L105.7,83.8 L106.3,84.7 L106.6,85.6 L106.6,86.7 L106.6,87.8 L106.8,88.8 L106.4,89.9 L106.9,90.9 L107.0,91.9 L107.2,92.9 L107.8,93.7 L108.5,94.5 L109.0,95.4 L109.2,96.4 L109.5,97.4 L110.0,98.2 L110.5,99.1 L110.8,100.1 L111.0,101.1 L111.5,102.0 L111.9,102.9 L112.6,103.7 L113.2,104.5 L113.3,105.6 L114.1,106.3 L114.4,107.2 L115.1,108.0 L115.1,109.1 L115.9,109.8 L116.6,110.6 L117.0,111.5 L117.3,112.5 L117.9,113.3 L118.0,114.4 L118.9,115.1 L119.4,115.9 L119.9,116.8 L120.4,117.6 L120.6,118.7 L120.5,119.8 L120.9,120.7 L121.4,121.6 L122.0,122.4 L122.5,123.3 L122.9,124.2 L123.6,125.0 L124.4,125.7 L124.8,126.6 L125.6,127.3 L126.0,128.2 L126.6,129.0 L126.8,130.1 L127.7,130.7 L128.1,131.6 L128.4,132.6 L129.1,133.3 L129.5,134.3 L130.5,134.7 L131.7,135.1 L133.0,135.2 L132.7,136.8 L133.3,137.6 L133.8,138.4 L134.1,139.5 L135.4,139.7 L135.1,141.4 L136.4,141.5 L137.0,142.2 L138.0,142.6 L139.5,142.4 L139.8,143.6 L140.3,144.5 L140.4,146.1 L141.4,146.4 L141.3,148.2 L142.5,148.3 L143.6,148.5 L144.7,148.7 L145.2,149.9 L146.6,149.3 L147.4,150.1 L148.7,149.4 L149.3,150.6 L150.6,150.1 L151.0,151.9 L152.0,152.0 L152.8,152.7 L153.3,154.2 L154.1,154.6 L155.3,154.3 L156.4,154.3 L157.2,154.9 L158.9,153.7 L159.9,154.1 L161.1,154.0 L161.9,154.6 L162.7,155.2 L163.4,156.0 L164.3,156.5 L164.6,157.9 L165.2,158.8 L166.2,159.1 L166.7,160.2 L168.3,159.6 L169.1,160.2 L169.4,161.5 L170.8,161.2 L171.6,161.8 L172.9,161.6 L173.5,162.5 L174.6,162.5 L175.3,163.3 L176.3,163.3 L176.6,165.2 L177.6,165.5 L178.5,166.0 L179.7,165.6 L180.8,165.2 L181.5,166.5 L182.6,166.4 L183.6,166.4 L184.6,167.9 L185.6,167.5 L186.6,167.6 L187.7,167.8 L188.7,167.5 L189.6,166.8 L190.5,165.7 L191.4,164.1 L192.3,163.2 L193.2,163.3 L194.4,164.6 L195.5,165.5 L196.6,166.1 L197.6,165.7 L198.6,165.6 L199.6,165.9 L200.8,167.4 L201.7,166.6 L202.7,165.9 L203.6,165.2 L204.7,165.6 L205.4,164.0 L206.1,163.1 L206.3,162.3 L207.3,162.2 L207.5,161.3 L207.9,160.4 L208.6,159.6 L208.8,158.6 L209.2,157.7 L209.2,156.6 L209.6,155.7 L209.9,154.7 L210.3,153.8 L210.6,152.9 L210.8,151.9 L211.0,150.9 L212.0,150.5 L212.2,149.4 L212.7,150.7 L213.5,150.9 L214.2,151.6 L215.7,151.5 L216.0,152.6 L217.0,153.0 L217.1,154.3 L217.6,155.2 L217.4,156.7 L218.9,156.6 L219.5,157.5 L220.8,157.7 L221.7,158.3 L222.4,158.9 L223.2,159.5 L223.9,160.2 L224.5,161.0 L225.0,162.0 L225.4,163.0 L225.6,164.6 L226.8,165.2 L228.2,165.2 L229.3,164.5 L230.3,164.1 L231.2,163.6 L231.9,162.4 L233.1,162.9 L234.0,162.5 L234.7,161.1 L236.4,163.4 L237.3,163.5 L238.1,162.7 L239.0,162.3 L239.9,163.0 L240.8,162.1 L241.7,162.5 L242.8,162.5 L243.2,163.9 L244.4,163.6 L245.4,164.0 L246.5,163.8 L247.7,163.4 L248.4,164.5 L249.4,164.7 L250.4,164.7 L251.4,164.3 L252.4,163.0 L253.4,163.7 L254.4,165.1 L255.4,163.7 L256.4,163.6 L257.4,164.4 L258.4,164.8 L259.4,166.3 L260.4,164.7 L261.4,164.8 L262.4,165.3 L263.4,163.6 L264.4,163.5 L265.4,163.6 L266.4,163.8 L267.4,164.8 L268.4,165.4 L269.4,165.5 L270.3,166.7 L271.4,164.6 L272.3,165.8 L273.5,164.4 L274.5,164.6 L275.6,164.2 L276.7,163.9 L277.3,165.8 L278.2,166.6 L279.2,166.7 L280.2,166.8" stroke="#14007f"/>
<path d="M51.7,186.0 L51.6,185.0 L51.9,184.0 L51.9,183.0 L52.1,182.0 L52.2,181.0 L51.8,180.0 L51.8,179.0 L51.9,178.0 L51.6,177.0 L51.8,176.0 L51.7,175.0 L52.0,174.0 L52.2,173.0 L52.2,172.0 L52.3,171.0 L52.1,170.0 L52.1,169.0 L52.4,168.0 L52.4,167.0 L52.5,166.0 L52.8,165.0 L52.6,164.0 L52.6,163.0 L52.7,162.0 L53.1,161.1 L53.1,160.5 L53.0,161.0 L53.3,161.8 L53.6,162.8 L54.1,163.7 L54.1,164.7 L54.3,165.7 L54.6,166.7 L54.6,168.1 L56.4,168.8 L57.1,167.2 L57.2,166.1 L57.3,165.1 L57.5,164.1 L57.3,163.0 L57.5,162.1 L57.4,161.0 L57.8,160.1 L57.9,159.1 L58.5,158.2 L58.6,157.2 L59.2,156.3 L59.6,155.4 L59.9,154.4 L60.1,153.4 L60.4,152.5 L60.7,151.5 L60.8,150.5 L60.8,149.5 L60.7,148.4 L60.8,147.4 L61.3,146.5 L61.5,145.6 L62.1,144.7 L62.6,143.7 L62.9,142.8 L63.1,141.8 L63.5,140.9 L63.7,139.9 L63.5,138.8 L64.0,137.9 L64.2,136.9 L64.1,135.9 L64.2,134.9 L64.3,133.9 L64.8,133.0 L65.1,132.0 L65.3,131.0 L65.2,130.0 L66.3,129.2 L66.3,128.2 L66.5,127.2 L66.6,126.2 L67.1,125.3 L67.3,124.3 L67.9,123.4 L68.0,122.4 L67.6,121.3 L68.0,120.4 L67.8,119.3 L67.9,118.3 L67.8,117.2 L67.8,116.2 L68.1,115.2 L68.6,114.3 L69.1,113.4 L69.7,112.5 L70.1,111.6 L70.3,110.6 L70.6,109.7 L70.9,108.7 L71.0,107.7 L71.6,106.8 L71.5,105.8 L71.8,104.8 L72.1,103.9 L72.5,102.9 L73.0,102.0 L73.1,101.0 L73.4,100.1 L73.5,99.1 L73.6,98.0 L73.9,97.1 L73.8,96.0 L74.1,95.1 L74.5,94.2 L74.7,93.2 L74.8,92.2 L74.8,91.1 L74.6,90.1 L74.8,89.1 L75.0,88.1 L75.7,87.2 L76.2,86.3 L76.4,85.4 L77.2,84.5 L77.4,83.5 L77.1,82.4 L76.9,81.4 L76.9,80.3 L77.2,79.4 L77.4,78.4 L78.1,77.5 L78.6,76.6 L78.5,75.6 L79.0,74.7 L78.9,73.6 L79.7,72.8 L80.2,71.9 L80.5,70.9 L80.4,69.9 L81.2,69.0 L81.2,68.0 L81.5,67.0 L81.3,66.0 L81.4,65.0 L81.6,64.0 L81.9,63.0 L82.2,62.1 L82.1,61.0 L82.4,60.1 L82.7,59.1 L83.0,58.1 L83.2,57.2 L83.7,56.3 L84.5,55.4 L84.7,54.4 L84.7,53.4 L84.9,52.4 L85.0,51.4 L85.3,50.5 L85.3,49.5 L85.5,48.5 L85.6,47.5 L85.7,46.5 L85.9,45.5 L86.3,44.6 L86.7,43.6 L86.9,42.6 L87.1,41.7 L87.7,40.8 L88.7,40.7 L88.7,39.0 L89.8,39.5 L90.8,38.3 L91.8,39.2 L92.8,39.0 L94.0,38.7 L95.4,39.2 L95.4,40.7 L95.7,41.7 L95.6,42.7 L95.8,43.7 L96.1,44.7 L96.1,45.7 L95.7,46.8 L96.0,47.7 L96.3,48.7 L96.9,49.6 L97.1,50.5 L97.7,51.4 L97.5,52.5 L97.8,53.5 L97.7,54.5 L97.6,55.6 L97.9,56.6 L98.1,57.6 L98.5,58.5 L99.1,59.4 L99.7,60.2 L100.3,61.1 L100.2,62.2 L100.5,63.1 L101.2,63.9 L102.1,64.7 L102.2,65.7 L102.5,66.7 L102.5,67.7 L102.6,68.7 L102.9,69.7 L103.6,70.5 L103.9,71.5 L104.4,72.3 L104.5,73.4 L104.6,74.4 L105.2,75.2 L105.6,76.2 L105.7,77.2 L106.2,78.1 L106.5,79.0 L106.5,80.1 L107.0,81.0 L107.2,82.0 L107.6,82.9 L108.1,83.8 L107.9,84.9 L108.9,85.6 L109.0,86.6 L109.6,87.5 L109.7,88.5 L110.0,89.5 L110.1,90.5 L110.8,91.3 L111.2,92.2 L111.4,93.2 L111.8,94.1 L112.3,95.0 L112.2,96.1 L112.9,96.9 L113.4,97.8 L113.9,98.7 L114.1,99.7 L115.0,100.4 L115.1,101.4 L115.7,102.2 L115.9,103.2 L116.8,103.9 L116.7,105.1 L118.0,105.5 L118.4,106.4 L118.9,107.3 L118.8,108.5 L119.4,109.3 L120.2,110.1 L120.2,111.2 L120.6,112.1 L121.4,112.8 L121.7,113.8 L122.3,114.6 L122.4,115.7 L122.5,116.7 L123.0,117.6 L123.1,118.6 L123.8,119.4 L124.3,120.3 L124.4,121.3 L124.5,122.4 L124.9,123.3 L125.4,124.2 L125.5,125.2 L126.1,126.0 L127.3,126.6 L127.4,127.6 L128.1,128.4 L128.2,129.4 L128.1,130.6 L128.5,131.5 L129.7,132.0 L129.4,133.4 L130.4,134.0 L130.6,135.0 L131.4,135.7 L132.3,136.2 L133.0,137.0 L134.1,137.4 L134.8,138.1 L135.3,138.9 L135.6,139.9 L136.2,140.8 L136.4,142.0 L138.1,141.7 L138.8,142.4 L139.7,142.8 L140.7,143.2 L141.2,144.2 L142.2,144.5 L143.0,144.9 L143.4,146.1 L144.1,146.7 L145.3,146.7 L145.8,147.7 L146.7,148.2 L147.7,148.3 L148.3,149.3 L149.3,149.6 L150.3,149.7 L150.9,151.1 L151.8,151.4 L152.5,152.4 L153.5,152.5 L154.8,152.0 L156.0,151.8 L156.9,152.0 L157.9,152.2 L158.8,152.8 L159.2,154.6 L160.0,155.2 L160.7,156.2 L161.8,156.0 L163.6,154.3 L164.5,154.7 L165.3,155.3 L166.4,155.3 L167.4,155.6 L168.6,155.2 L169.7,155.2 L170.5,156.1 L171.5,156.5 L171.9,158.0 L172.7,158.7 L173.8,158.8 L174.8,159.1 L174.5,161.4 L175.9,161.1 L176.6,161.8 L177.1,162.9 L178.2,163.1 L179.4,163.0 L180.4,163.3 L181.0,164.2 L182.0,164.4 L182.8,164.8 L183.9,164.2 L184.8,163.5 L185.7,164.1 L186.7,163.4 L187.7,162.8 L188.7,164.3 L189.7,163.6 L190.7,163.4 L191.7,165.4 L192.7,164.7 L193.7,163.9 L194.7,164.2 L195.7,164.8 L196.7,165.7 L197.7,165.6 L198.7,165.9 L199.8,165.9 L200.7,165.2 L201.7,164.8 L202.7,164.8 L203.8,165.8 L204.8,165.6 L205.9,166.0 L207.4,165.7 L207.6,163.9 L207.7,162.8 L208.3,161.9 L208.0,160.8 L208.0,159.8 L208.6,158.9 L208.5,157.8 L208.9,156.9 L208.9,155.9 L209.5,155.0 L209.7,154.0 L210.1,153.1 L210.7,152.2 L211.0,151.3 L211.5,150.4 L212.2,149.9 L212.3,149.6 L213.1,149.0 L214.0,149.4 L214.2,150.6 L215.5,150.8 L215.4,152.2 L216.1,152.9 L216.9,153.6 L217.8,154.1 L218.2,155.1 L219.8,155.0 L220.3,155.9 L221.0,156.6 L221.9,157.2 L222.5,158.0 L223.0,158.9 L223.6,159.7 L223.9,160.7 L224.5,161.5 L224.5,162.8 L225.3,163.6 L226.6,163.4 L227.7,163.2 L228.5,163.7 L229.7,163.2 L230.3,164.4 L231.3,163.9 L232.2,163.8 L233.1,164.2 L233.7,163.0 L235.0,164.2 L236.3,164.8 L237.4,165.0 L238.0,163.6 L239.0,162.8 L240.0,163.9 L241.0,163.6 L241.9,164.3 L242.9,164.2 L243.9,164.3 L245.0,164.2 L246.2,164.1 L247.1,164.8 L247.4,166.0 L247.8,167.2 L248.6,167.8 L249.8,167.9 L250.4,169.7 L251.9,167.7 L252.8,168.4 L254.0,167.6 L254.9,167.9 L255.8,169.0 L256.9,167.8 L257.9,166.4 L258.8,167.3 L259.6,166.6 L260.7,168.5 L261.5,168.0 L262.3,167.4 L263.3,167.3 L264.1,166.7 L265.3,166.7 L266.6,167.6 L267.3,167.6 L268.1,167.1 L269.1,166.4 L270.1,165.8 L271.1,165.9 L272.1,166.3 L273.0,167.0 L273.9,168.2 L274.9,167.4 L275.9,167.5 L277.1,166.8 L278.1,166.9 L279.4,166.3 L280.5,166.5 L281.3,167.2" stroke="#8c00ff"/>
<path d="M357.3,178.5 L357.4,177.3 L357.8,176.4 L357.8,175.3 L358.4,174.4 L358.6,173.4 L358.8,172.4 L358.8,171.4 L358.8,170.4 L358.8,169.4 L358.6,168.3 L358.4,167.3 L358.5,166.3 L358.9,165.4 L358.8,164.3 L358.9,163.3 L359.3,162.4 L359.0,161.3 L359.2,160.3 L359.5,159.4 L359.7,158.4 L359.6,157.4 L359.5,156.3 L360.1,155.4 L360.3,154.2 L361.2,154.4 L361.4,155.5 L361.1,156.5 L361.5,157.5 L361.9,158.4 L362.2,159.4 L362.3,160.4 L362.3,161.4 L362.2,162.4 L362.1,163.5 L362.7,164.4 L362.6,165.4 L362.6,166.4 L362.7,167.4 L362.8,168.4 L363.2,169.4 L363.8,170.2 L364.3,169.2 L364.7,168.2 L365.0,167.3 L365.1,166.3 L365.4,165.3 L365.4,164.3 L364.8,162.7 L366.9,162.1 L367.0,163.9 L367.4,164.8 L367.1,165.9 L367.4,166.9 L367.1,168.0 L367.6,168.9 L367.6,169.9 L368.0,170.9 L368.3,169.9 L368.6,169.0 L369.0,168.1 L369.3,167.1 L369.9,166.2 L370.1,165.3 L370.4,164.3 L370.5,163.3 L370.3,161.9 L371.8,160.4 L372.4,162.7 L373.4,163.0 L374.9,162.6 L374.2,165.5 L375.6,165.4 L376.7,165.9 L377.9,165.7 L379.2,166.6 L379.8,164.8 L380.9,164.9 L382.0,164.9 L383.0,164.9 L383.6,163.7 L384.5,163.6 L385.4,163.8 L386.4,162.4 L387.4,163.3 L388.3,163.6 L389.5,162.5 L390.6,162.5 L391.9,161.4 L392.6,162.6 L393.8,162.1 L394.4,163.8 L395.0,165.9 L396.0,166.0 L397.0,167.3 L398.2,166.5 L399.2,167.0 L400.2,166.8 L401.2,166.3 L402.2,165.9 L403.2,166.1 L404.2,165.4 L405.2,165.0 L406.2,164.4 L407.2,164.8 L408.2,165.7 L409.2,166.7 L410.2,166.1 L411.2,166.3 L412.2,165.4 L413.2,165.0 L414.1,165.5 L415.1,165.8 L416.3,165.0 L417.3,165.2 L418.1,165.8 L419.2,165.7 L420.2,165.9 L421.2,165.6 L422.2,166.1 L423.0,166.7 L424.4,165.7 L425.0,167.1 L426.0,167.3 L427.1,166.7 L428.0,166.9 L429.0,166.4 L429.8,167.3 L430.8,167.3 L431.7,166.8 L432.7,167.3 L433.6,167.0 L434.8,167.7 L435.9,168.6 L436.8,168.3 L437.8,167.9 L438.8,167.5 L439.8,168.5 L440.7,169.4 L441.6,170.0 L442.6,169.5 L443.5,169.5 L444.5,169.7 L445.5,169.9 L446.7,168.4 L447.6,168.6 L448.6,168.7 L449.6,168.7 L450.4,169.6 L451.6,169.0 L452.8,168.6 L453.5,169.7 L454.8,168.7 L455.6,169.6 L456.5,170.1 L457.5,170.1 L458.3,171.2 L459.4,169.7 L460.3,170.2 L461.2,169.6 L462.1,169.5 L463.1,169.7 L463.6,168.1 L464.7,168.2 L466.1,169.5 L467.2,169.5 L468.4,170.3 L469.5,170.8 L470.2,169.8 L471.1,170.0 L472.0,170.2 L472.9,169.9 L474.2,167.7 L475.1,168.6 L475.6,170.5 L476.6,170.3 L477.7,170.2 L478.5,170.9 L479.4,171.4 L480.5,171.3 L481.1,172.5 L481.7,173.5 L482.8,173.2 L483.8,173.1 L485.1,172.9 L486.1,173.4 L487.3,173.3 L487.5,174.8 L488.4,175.3 L489.5,176.5 L490.7,177.0 L491.4,175.0 L492.5,175.1 L493.3,174.3 L494.8,176.0 L495.4,174.4 L496.3,173.8 L497.5,174.3 L498.3,173.7 L499.3,173.4 L499.7,171.1 L500.7,171.0 L501.7,170.6 L502.5,169.5 L503.8,170.7 L504.8,170.7 L505.9,170.8 L506.9,170.7 L507.9,170.7 L508.9,170.3 L509.8,169.4 L510.9,170.3 L511.7,167.5 L512.8,167.6 L513.8,167.8 L514.8,167.1 L515.9,168.9 L516.9,168.7 L517.9,168.4 L519.1,168.1 L520.0,169.9 L521.1,169.8 L521.9,170.9 L522.9,171.3 L523.8,171.6 L524.8,171.7 L525.7,172.2 L526.8,172.2 L527.9,171.7 L528.9,171.3 L529.8,172.3 L530.8,172.7 L531.8,173.1 L532.8,172.3 L533.8,172.7 L534.8,172.0 L535.8,172.6 L536.8,173.0 L537.8,173.6 L538.8,171.9 L539.8,171.6 L540.8,171.3 L541.8,172.6 L542.8,173.0 L543.8,173.2 L544.8,173.1 L545.8,174.7 L546.8,173.4 L547.8,174.1 L548.8,172.4 L549.8,173.4 L550.8,172.8 L551.8,172.5 L552.8,173.7 L553.8,173.5 L554.8,172.1 L555.8,174.1 L556.8,173.2 L557.8,172.3 L558.8,173.2 L559.8,173.1 L560.8,172.2 L561.7,171.1 L562.7,171.7 L563.7,171.4 L564.7,171.8 L565.9,173.3 L566.8,172.1 L567.7,171.5 L568.8,172.3 L569.7,171.1 L570.8,172.7 L571.7,171.6 L572.7,171.2 L573.7,170.6 L574.6,170.2 L575.7,170.8 L576.8,171.5 L577.7,170.6 L578.7,170.8 L579.7,171.1 L580.7,170.3 L581.7,171.0 L582.7,170.1 L583.7,170.2 L584.7,170.5 L585.5,171.7" stroke="#000000"/>
<path d="M357.2,178.4 L357.5,177.4 L357.5,176.3 L357.7,175.3 L358.0,174.3 L358.0,173.3 L357.9,172.3 L358.1,171.3 L358.2,170.3 L358.7,169.3 L358.4,168.3 L358.7,167.3 L358.4,166.3 L358.5,165.3 L358.8,164.3 L358.4,163.3 L359.1,162.4 L358.9,161.3 L359.6,160.4 L359.5,159.4 L359.7,158.4 L359.6,157.4 L360.0,156.4 L360.2,155.4 L360.6,154.5 L360.9,154.1 L360.7,154.4 L361.6,154.9 L362.2,155.8 L362.8,156.7 L363.0,157.7 L362.8,158.8 L363.2,159.7 L363.1,160.7 L364.1,161.4 L364.9,161.5 L364.7,161.7 L365.5,161.9 L366.6,161.6 L367.6,161.1 L367.6,159.8 L368.4,159.2 L368.7,158.0 L368.4,156.1 L370.0,155.6 L371.3,155.5 L372.4,155.8 L373.4,155.9 L374.4,155.4 L375.5,156.3 L376.4,155.2 L377.5,155.9 L378.5,156.6 L379.5,155.6 L380.5,157.1 L381.5,157.4 L382.5,157.3 L383.5,158.0 L384.4,158.5 L385.3,158.8 L386.2,159.1 L387.3,157.6 L388.7,155.5 L389.8,155.4 L390.4,157.4 L391.5,156.9 L392.3,158.1 L393.2,158.4 L394.2,158.3 L395.2,158.7 L396.4,158.1 L396.9,160.1 L398.2,158.9 L399.0,159.9 L399.9,160.4 L401.0,160.1 L401.9,160.7 L403.0,160.4 L404.2,159.8 L405.4,159.0 L406.4,159.2 L407.1,160.6 L408.0,161.1 L408.7,162.2 L409.6,162.7 L410.5,163.0 L411.5,163.2 L412.4,163.4 L413.5,163.4 L414.5,163.7 L415.6,163.7 L416.6,163.5 L417.5,163.3 L418.4,163.7 L419.5,162.4 L420.5,163.5 L421.3,165.4 L422.3,165.6 L423.3,165.8 L424.1,166.6 L425.6,164.1 L426.4,165.2 L427.5,164.9 L428.5,165.0 L429.2,166.2 L430.1,167.0 L431.0,167.1 L432.1,167.0 L433.1,167.1 L434.2,167.1 L435.1,167.5 L436.3,167.0 L437.1,167.7 L437.9,168.4 L438.9,168.4 L439.8,169.9 L441.0,169.9 L442.5,170.9 L443.4,170.1 L444.4,169.9 L444.7,168.2 L445.5,167.4 L446.6,166.5 L447.7,166.8 L448.8,166.4 L449.8,166.3 L450.6,167.5 L451.8,165.9 L452.5,167.1 L453.5,167.5 L454.5,169.3 L455.5,168.2 L456.5,168.2 L457.5,168.8 L458.5,169.8 L459.5,169.4 L460.5,169.4 L461.4,168.5 L462.5,167.8 L463.4,169.4 L464.4,169.2 L465.4,169.8 L466.4,169.5 L467.4,169.2 L468.4,170.2 L469.4,170.3 L470.4,168.6 L471.4,169.1 L472.4,169.1 L473.5,168.2 L474.3,169.4 L475.1,170.0 L475.7,171.5 L476.4,172.2 L477.8,171.1 L478.5,172.0 L479.4,172.4 L480.8,171.5 L482.3,170.4 L483.4,170.5 L484.6,170.6 L485.1,171.9 L486.3,172.1 L486.4,173.6 L487.5,173.7 L488.2,174.1 L489.0,174.0 L489.7,174.4 L490.8,174.9 L491.9,175.1 L492.6,173.9 L493.8,174.8 L494.5,173.5 L495.2,172.0 L496.6,173.5 L497.3,172.1 L498.0,171.0 L499.2,171.7 L500.2,171.4 L501.1,170.9 L502.2,171.3 L503.0,170.0 L504.3,171.2 L505.2,170.7 L506.4,172.1 L507.4,172.6 L508.4,171.7 L509.5,173.0 L510.3,170.5 L511.3,170.8 L512.3,171.1 L513.3,170.4 L514.3,171.0 L515.3,169.6 L516.3,170.7 L517.3,170.1 L518.3,171.2 L519.2,171.6 L520.2,171.4 L521.1,171.9 L522.1,172.2 L522.8,173.6 L523.7,174.0 L525.1,172.5 L526.0,172.9 L527.0,173.3 L528.1,173.0 L529.1,173.6 L530.1,173.8 L531.2,171.4 L532.2,172.6 L533.1,174.2 L534.1,174.1 L535.1,173.4 L536.1,173.2 L537.2,172.9 L538.1,173.7 L539.2,172.6 L540.1,173.7 L541.1,174.8 L542.1,174.6 L543.2,173.7 L544.2,172.9 L545.2,171.4 L546.2,171.1 L547.2,171.6 L548.2,172.7 L549.2,172.9 L550.2,173.4 L551.2,173.6 L552.2,173.7 L553.2,173.6 L554.2,173.2 L555.2,174.2 L556.2,172.8 L557.1,171.5 L558.2,172.3 L559.1,171.9 L560.2,173.0 L561.1,171.3 L562.1,171.8 L563.1,171.4 L564.2,172.9 L565.2,172.9 L566.2,172.2 L567.2,172.3 L568.1,171.1 L569.1,171.8 L570.1,170.9 L571.1,171.0 L572.0,170.1 L573.0,170.4 L574.1,171.1 L575.2,171.8 L576.2,171.4 L577.0,170.2 L578.3,172.0 L579.3,171.8 L580.3,172.2 L581.2,172.3 L582.1,171.7 L583.0,170.7 L583.8,171.1 L584.3,172.0 L585.0,172.8" stroke="#ff0000"/>
<path d="M356.3,172.0 L356.6,171.0 L356.6,170.0 L357.1,169.1 L356.9,168.0 L357.2,167.0 L357.3,166.1 L357.3,165.0 L357.1,164.0 L357.3,163.0 L357.8,162.1 L358.0,161.1 L357.9,160.1 L357.9,159.1 L358.4,158.1 L358.7,157.2 L358.8,156.2 L359.0,155.2 L359.4,154.2 L359.3,153.2 L359.8,152.3 L359.8,151.3 L359.9,150.3 L359.7,149.2 L359.2,148.1 L359.8,147.2 L359.7,146.2 L359.6,145.2 L360.1,144.2 L360.8,143.3 L360.5,142.3 L360.9,141.3 L360.6,139.8 L362.4,139.9 L361.7,141.4 L361.6,142.4 L362.0,143.4 L361.8,144.4 L362.2,145.4 L362.2,146.4 L362.4,147.4 L362.4,148.4 L362.5,149.4 L362.7,150.3 L362.6,151.4 L362.6,152.4 L362.9,153.3 L363.3,154.3 L363.1,155.6 L364.5,156.3 L365.2,155.1 L365.6,154.0 L366.1,153.1 L366.2,152.0 L366.6,151.1 L367.2,150.3 L368.0,149.6 L368.6,148.7 L369.7,148.1 L371.0,148.1 L372.1,148.3 L373.2,148.7 L373.9,147.6 L374.6,146.0 L375.7,146.5 L376.5,145.0 L377.6,144.9 L378.6,145.0 L379.6,144.5 L380.7,145.1 L381.8,145.7 L382.7,144.2 L383.8,145.3 L384.8,145.9 L385.8,146.6 L386.8,146.4 L387.4,147.9 L388.5,147.8 L389.3,148.3 L390.3,148.3 L391.0,149.3 L392.5,148.5 L393.1,149.4 L394.1,149.6 L394.7,150.6 L396.7,149.2 L397.4,149.9 L397.9,151.0 L398.7,151.7 L399.9,151.8 L400.4,152.8 L401.6,153.0 L402.2,153.8 L403.3,154.0 L403.5,155.4 L404.2,156.0 L405.2,157.4 L406.5,157.1 L407.7,157.0 L408.2,155.7 L408.7,154.5 L409.7,155.1 L410.7,154.5 L411.3,155.4 L411.8,156.3 L412.3,157.3 L413.2,157.7 L415.1,156.9 L416.0,157.2 L416.8,157.4 L417.5,156.5 L418.2,156.4 L419.3,158.0 L420.3,159.4 L421.3,158.9 L422.2,159.5 L422.8,161.1 L424.0,160.2 L425.4,158.9 L426.3,159.7 L427.2,160.1 L428.2,160.1 L428.9,161.5 L429.6,162.8 L430.5,163.2 L431.3,164.2 L432.4,164.1 L433.5,163.8 L434.4,164.1 L435.7,163.1 L436.8,162.8 L437.9,162.3 L438.9,162.7 L439.8,163.0 L440.5,164.6 L441.2,166.0 L442.3,166.1 L443.5,164.8 L444.6,164.4 L445.6,164.6 L446.5,165.4 L447.5,165.5 L448.4,166.0 L449.4,166.2 L450.3,166.9 L451.3,167.3 L452.3,166.8 L453.4,166.7 L454.3,167.5 L455.4,166.7 L456.4,166.7 L457.5,166.4 L458.4,167.1 L459.4,167.2 L460.1,169.2 L461.0,170.1 L462.1,169.9 L463.4,167.5 L464.4,167.1 L465.4,167.6 L466.4,167.5 L467.5,166.9 L468.4,167.6 L469.4,167.4 L470.4,167.9 L471.4,167.9 L472.4,167.5 L473.5,167.3 L474.3,168.7 L475.5,167.5 L476.3,168.8 L477.5,167.5 L478.6,167.5 L479.6,167.9 L480.3,169.1 L481.0,169.8 L481.6,170.6 L482.6,171.0 L483.4,171.6 L484.0,172.5 L484.6,173.2 L485.5,173.7 L486.0,174.9 L486.7,175.9 L488.0,176.0 L489.2,175.6 L490.2,174.8 L491.2,175.1 L492.5,176.1 L493.2,174.8 L494.1,174.2 L495.1,174.2 L496.1,173.8 L497.0,173.5 L497.9,172.8 L499.1,173.6 L500.1,173.2 L501.1,173.3 L502.1,173.1 L502.9,172.4 L503.9,172.2 L504.9,172.5 L505.7,171.3 L506.7,171.4 L507.8,171.5 L508.7,171.0 L509.7,171.1 L510.7,170.6 L511.7,170.7 L512.7,171.2 L513.7,170.8 L514.7,169.9 L515.7,170.5 L516.7,170.5 L517.7,171.1 L518.7,170.6 L519.7,170.9 L520.7,170.8 L521.6,171.4 L522.7,171.2 L523.4,172.6 L524.7,171.3 L525.5,172.3 L526.6,171.7 L527.6,171.7 L528.5,173.2 L529.5,173.4 L530.5,173.8 L531.5,173.2 L532.5,173.2 L533.5,173.6 L534.5,173.7 L535.5,173.5 L536.6,172.7 L537.6,171.2 L538.6,170.7 L539.6,171.3 L540.6,170.8 L541.6,171.1 L542.6,170.7 L543.6,170.6 L544.6,172.4 L545.6,173.3 L546.6,173.9 L547.6,173.7 L548.6,174.2 L549.6,173.3 L550.6,172.4 L551.5,171.9 L552.5,171.4 L553.6,173.2 L554.6,172.8 L555.6,172.5 L556.5,172.3 L557.5,170.9 L558.4,169.7 L559.4,168.9 L560.4,169.4 L561.4,170.0 L562.4,170.3 L563.4,169.7 L564.4,169.6 L565.3,168.6 L566.3,169.1 L567.5,170.8 L568.6,172.5 L569.7,173.5 L570.6,172.8 L571.6,171.9 L572.6,171.8 L573.6,171.6 L574.5,171.0 L575.5,171.1 L576.6,171.5 L577.5,170.6 L578.5,170.6 L579.6,171.1 L580.4,170.1 L581.4,170.0 L582.4,169.5 L583.3,170.1 L584.8,169.0 L585.4,170.3" stroke="#0000ff"/>
<path d="M356.4,170.0 L356.6,169.0 L356.7,168.0 L357.0,167.0 L356.9,166.0 L357.1,165.0 L357.0,164.0 L357.2,163.0 L357.2,162.0 L357.5,161.1 L357.4,160.0 L357.8,159.1 L357.7,158.0 L357.7,157.0 L358.0,156.1 L358.5,155.1 L358.4,154.1 L358.8,153.2 L358.7,152.1 L359.2,151.2 L359.4,150.2 L359.6,149.2 L359.8,148.2 L359.6,147.2 L359.8,146.2 L360.1,145.3 L360.6,144.4 L360.6,143.4 L360.9,142.6 L361.6,142.1 L361.6,143.3 L362.2,144.2 L362.0,145.3 L362.3,146.3 L362.3,147.3 L362.2,148.3 L362.2,149.3 L362.5,150.3 L362.7,151.3 L362.5,152.3 L362.6,153.3 L363.1,154.2 L363.2,155.3 L364.0,156.1 L365.1,155.8 L365.6,154.8 L366.2,154.0 L366.8,153.1 L367.1,152.1 L367.6,151.3 L367.7,150.2 L367.4,149.0 L368.2,148.3 L368.7,147.4 L369.0,146.4 L369.4,145.5 L370.1,144.8 L371.0,144.5 L371.6,143.3 L372.7,143.5 L373.8,144.0 L374.8,144.1 L375.9,144.4 L376.7,143.6 L377.7,144.0 L378.6,142.8 L379.6,142.8 L380.6,141.5 L381.6,142.6 L382.7,141.5 L383.7,142.1 L384.5,143.3 L385.5,143.6 L386.5,143.7 L387.5,143.8 L388.3,144.4 L389.1,144.7 L390.1,144.7 L391.3,144.4 L392.3,144.9 L392.9,145.7 L393.8,146.2 L394.9,146.3 L395.6,147.0 L395.9,148.3 L396.4,149.3 L397.2,149.9 L398.2,150.3 L398.2,151.6 L399.7,151.5 L400.7,151.9 L402.5,151.6 L403.0,152.4 L403.6,153.1 L404.0,154.0 L404.7,154.3 L405.4,154.6 L406.4,154.6 L407.6,154.5 L408.4,153.9 L408.9,153.0 L409.7,151.2 L411.1,151.9 L411.9,152.9 L412.4,154.0 L413.2,154.5 L414.0,155.1 L415.2,155.4 L415.0,157.0 L416.2,157.2 L417.0,157.6 L418.2,157.2 L419.1,157.4 L420.2,157.1 L421.4,156.8 L422.5,156.6 L423.1,158.0 L423.8,159.1 L424.8,159.2 L425.7,159.7 L426.5,160.6 L427.3,161.8 L428.1,163.0 L429.3,161.7 L430.3,162.2 L431.5,160.7 L432.4,161.6 L433.3,162.6 L434.2,163.2 L435.2,164.3 L436.1,165.0 L437.3,163.1 L438.3,162.9 L439.3,162.8 L440.3,162.9 L441.4,161.4 L442.4,161.8 L443.4,162.2 L444.4,161.9 L445.4,162.4 L446.4,161.9 L447.5,161.6 L448.5,162.1 L449.2,163.6 L450.1,164.2 L451.2,163.8 L452.4,162.9 L453.2,164.3 L454.2,164.1 L455.0,165.4 L456.1,164.8 L457.5,163.4 L458.6,163.0 L459.7,162.5 L460.4,163.9 L461.7,162.3 L462.4,163.8 L463.2,165.0 L464.1,165.2 L464.9,167.1 L465.9,167.4 L466.8,167.8 L467.8,168.3 L468.8,168.3 L469.7,169.3 L470.7,169.0 L471.6,169.7 L472.6,169.8 L473.6,169.3 L474.7,168.9 L475.8,168.0 L476.7,168.6 L477.6,169.1 L478.4,170.1 L479.2,170.3 L480.5,169.5 L481.1,170.3 L482.1,170.7 L483.4,170.7 L484.3,171.1 L485.1,171.8 L485.4,172.9 L485.9,174.0 L486.1,175.5 L487.0,176.7 L488.2,178.2 L489.8,178.1 L490.9,176.5 L491.6,174.9 L492.4,174.1 L493.4,173.9 L494.6,174.6 L495.9,175.4 L496.6,174.3 L497.7,174.5 L498.5,173.3 L499.5,173.5 L500.6,173.7 L501.5,173.0 L502.3,172.3 L503.3,172.2 L504.4,172.5 L505.2,171.6 L506.2,171.2 L507.2,171.4 L508.2,171.6 L509.0,169.7 L510.1,170.2 L511.1,169.9 L512.1,169.5 L513.1,169.6 L514.1,170.2 L515.2,171.6 L516.2,173.1 L517.2,173.3 L518.1,171.8 L519.1,170.7 L520.3,169.5 L521.2,170.5 L522.6,168.5 L523.5,169.3 L524.0,171.6 L525.1,171.1 L525.9,172.4 L527.1,171.3 L528.0,172.1 L529.0,172.3 L530.0,171.7 L531.0,172.4 L532.0,172.1 L533.0,173.1 L534.0,172.5 L535.0,172.2 L536.0,172.9 L537.0,172.5 L538.0,171.9 L539.0,171.3 L540.0,171.9 L541.0,171.2 L542.0,171.2 L543.0,171.7 L544.0,172.1 L545.0,171.5 L546.0,171.4 L547.0,171.3 L548.0,171.7 L549.0,172.3 L550.0,174.3 L551.0,172.5 L552.0,172.9 L553.0,172.2 L553.9,170.7 L554.9,170.2 L556.0,171.8 L557.0,173.2 L558.1,173.8 L559.0,173.5 L560.0,173.2 L561.0,173.4 L562.0,171.9 L563.0,172.1 L564.0,172.9 L565.0,171.9 L565.9,171.7 L567.0,171.7 L568.0,172.2 L569.0,172.4 L570.1,173.5 L571.1,173.6 L572.2,173.7 L573.0,171.7 L574.2,172.7 L574.9,171.1 L575.8,170.2 L576.4,168.5 L577.3,167.6 L578.5,168.2 L579.6,168.5 L580.8,169.7 L581.7,167.8 L582.9,168.0 L583.9,169.4 L584.7,170.4 L585.2,171.4" stroke="#ff00ff"/>
<path d="M356.5,150.0 L356.7,149.0 L357.1,148.1 L357.3,147.1 L357.8,146.2 L358.1,145.3 L358.5,144.4 L359.0,143.5 L359.2,142.5 L359.5,141.5 L359.5,140.5 L360.1,139.6 L359.8,138.5 L360.3,137.6 L360.9,137.9 L360.5,137.9 L361.0,138.5 L361.6,139.4 L361.9,140.3 L362.1,141.3 L362.4,142.3 L362.7,143.2 L363.2,144.1 L363.4,145.1 L363.7,146.1 L364.3,146.9 L364.7,147.2 L364.3,147.6 L364.5,146.8 L364.6,145.8 L364.8,144.8 L365.2,143.9 L365.6,143.0 L366.0,142.0 L366.1,141.0 L366.5,140.1 L366.9,139.2 L367.3,138.3 L367.6,137.4 L368.6,136.8 L368.9,135.8 L369.4,135.0 L369.2,133.6 L369.9,132.6 L371.0,132.2 L372.1,131.7 L373.2,131.8 L374.2,132.3 L375.3,132.0 L376.2,132.7 L377.2,132.0 L378.1,133.5 L379.1,133.2 L379.6,130.7 L380.5,130.4 L381.4,130.2 L382.4,129.9 L383.8,131.0 L385.0,131.6 L386.2,131.3 L386.7,132.5 L387.6,133.0 L388.6,133.6 L389.2,134.3 L389.4,135.4 L390.2,136.0 L391.3,136.1 L391.8,137.1 L393.2,136.5 L393.5,138.2 L394.4,138.5 L395.8,137.9 L396.6,138.6 L397.5,139.1 L397.3,141.9 L398.6,141.4 L399.6,141.8 L400.6,142.0 L401.5,142.5 L402.4,142.8 L403.2,143.6 L404.5,143.1 L405.9,142.0 L406.8,142.3 L408.0,141.7 L408.8,142.4 L410.1,141.3 L410.4,144.0 L411.6,143.7 L412.7,143.6 L413.2,145.3 L414.0,145.9 L414.8,146.6 L415.0,147.7 L416.3,147.7 L417.1,148.3 L417.8,149.0 L418.8,149.5 L419.4,150.2 L419.9,151.0 L420.7,151.6 L421.0,153.4 L422.3,153.0 L422.7,154.7 L423.8,154.8 L425.1,154.0 L426.5,153.0 L427.7,152.3 L428.4,153.4 L429.1,154.8 L429.9,155.4 L430.7,156.2 L431.9,155.8 L432.8,156.1 L433.6,157.0 L434.9,156.3 L435.5,157.7 L436.4,158.0 L437.5,158.2 L438.4,159.2 L439.5,158.9 L440.5,158.1 L441.5,157.6 L442.5,156.8 L443.5,157.2 L444.5,156.9 L445.5,158.2 L446.5,157.5 L447.5,158.6 L448.2,159.8 L449.5,158.4 L450.2,159.2 L451.3,159.3 L452.6,159.0 L452.5,161.2 L453.5,161.8 L454.7,161.5 L455.6,162.5 L456.6,163.2 L457.7,162.7 L458.7,163.1 L459.7,162.3 L460.6,163.5 L461.7,162.8 L462.6,163.4 L463.6,163.0 L464.6,163.1 L465.4,163.6 L466.5,163.3 L467.8,163.1 L469.1,162.9 L470.4,162.8 L470.8,163.7 L472.0,163.0 L472.5,163.5 L473.0,164.9 L474.2,163.9 L475.0,164.9 L475.8,166.4 L476.8,166.2 L477.8,167.0 L478.7,167.4 L479.8,166.5 L480.8,166.0 L481.8,166.0 L482.9,165.7 L483.8,166.1 L484.8,167.2 L485.8,167.0 L487.0,165.2 L487.8,167.1 L489.0,167.0 L490.4,166.8 L490.8,168.3 L491.9,168.3 L493.2,168.1 L493.5,169.7 L494.1,170.6 L494.6,171.7 L495.7,171.6 L496.3,173.6 L497.6,173.4 L498.7,173.4 L499.7,172.6 L500.6,172.2 L501.4,171.2 L502.7,172.0 L503.4,171.0 L504.5,171.1 L505.3,170.4 L506.5,171.2 L507.6,171.3 L508.4,170.4 L509.1,169.2 L510.1,168.8 L511.1,168.9 L512.2,169.4 L513.2,169.1 L514.2,169.2 L515.1,169.8 L516.1,168.5 L517.0,169.5 L517.8,170.2 L518.8,170.3 L519.7,170.5 L520.6,171.0 L521.8,169.9 L522.6,170.7 L523.8,170.1 L525.4,168.0 L526.0,169.6 L527.3,168.4 L528.1,169.2 L529.0,169.7 L530.0,169.6 L530.9,170.2 L531.8,171.0 L532.8,171.2 L533.7,171.7 L534.8,170.9 L535.6,172.5 L536.7,172.2 L537.6,172.7 L538.6,173.1 L539.7,171.9 L540.9,170.4 L541.9,170.0 L542.8,171.0 L543.8,170.3 L544.8,170.0 L545.8,170.7 L546.7,171.2 L547.7,171.0 L548.7,171.6 L549.7,171.4 L550.7,172.8 L551.7,173.1 L552.7,172.0 L553.6,171.1 L554.6,171.2 L555.7,172.0 L556.7,173.4 L557.7,171.9 L558.6,171.6 L559.6,171.2 L560.6,171.0 L561.7,171.8 L562.8,173.3 L563.7,172.0 L564.7,172.8 L565.7,172.9 L566.7,172.5 L567.7,171.7 L568.6,171.2 L569.7,172.2 L570.7,172.3 L571.6,170.5 L572.6,170.6 L573.7,172.0 L574.9,173.0 L575.7,171.3 L576.8,171.6 L577.6,170.7 L578.5,170.1 L579.3,168.2 L580.3,167.4 L581.3,166.9 L582.5,168.2 L583.7,169.0 L584.8,169.4 L585.6,170.4" stroke="#008000"/>
<path d="M356.0,162.9 L356.3,162.0 L356.8,161.0 L357.4,160.1 L357.1,159.0 L357.2,158.0 L357.2,157.0 L357.6,156.1 L357.8,155.1 L357.8,154.1 L357.7,153.1 L357.4,152.0 L357.8,151.0 L357.8,150.0 L358.3,149.1 L358.5,148.1 L358.7,147.2 L359.1,146.2 L359.3,145.2 L359.6,144.3 L359.9,143.3 L359.8,142.3 L360.3,141.3 L360.8,140.4 L360.8,139.4 L361.0,139.0 L360.3,139.6 L360.9,139.9 L361.5,140.7 L361.9,141.6 L362.2,142.6 L362.2,143.6 L362.5,144.5 L362.9,145.5 L363.2,146.4 L363.4,147.4 L363.9,148.3 L364.4,149.2 L364.7,150.2 L365.2,151.1 L365.4,152.0 L365.5,153.0 L366.0,153.3 L366.1,153.2 L366.2,152.4 L366.9,151.8 L366.9,150.7 L367.6,149.9 L367.6,148.9 L368.2,148.0 L368.5,147.1 L368.9,146.2 L369.8,145.4 L370.4,144.6 L370.9,143.7 L371.1,142.7 L371.5,141.8 L371.5,140.7 L372.8,140.5 L373.2,139.7 L373.4,138.3 L374.3,137.8 L374.9,136.7 L376.0,136.6 L376.9,136.1 L378.0,136.0 L378.9,135.6 L380.2,136.3 L381.4,137.3 L382.2,136.8 L383.0,135.3 L384.0,134.2 L385.1,134.5 L386.0,135.2 L387.0,135.4 L387.8,136.3 L388.9,136.3 L390.3,135.9 L390.8,137.0 L391.9,137.4 L392.0,138.7 L392.3,139.7 L392.8,140.7 L393.2,141.6 L393.8,142.4 L394.5,143.1 L395.3,143.8 L396.8,143.8 L397.1,144.8 L398.0,145.3 L399.0,145.5 L399.7,146.1 L400.9,145.9 L401.8,146.3 L402.0,148.3 L403.0,148.6 L403.6,150.0 L405.0,148.8 L405.9,149.4 L406.9,149.4 L408.1,148.8 L409.0,149.3 L410.0,149.6 L410.5,151.3 L411.6,151.2 L412.4,151.9 L412.9,153.0 L413.8,153.4 L414.1,154.7 L414.6,155.5 L416.2,154.6 L417.0,154.9 L417.5,155.6 L418.2,156.4 L419.3,156.9 L420.1,157.4 L421.1,157.6 L421.5,159.2 L422.8,158.6 L423.4,160.2 L424.5,160.0 L425.5,160.4 L426.6,159.9 L427.5,160.6 L428.4,161.1 L429.3,161.2 L430.8,159.8 L431.6,160.6 L432.6,160.8 L433.4,161.7 L433.9,163.0 L434.8,163.5 L436.5,161.8 L436.8,163.8 L437.9,164.0 L438.9,164.0 L439.9,164.1 L440.9,164.5 L441.9,164.6 L442.9,164.7 L444.0,164.5 L444.7,165.7 L445.5,166.3 L446.2,167.3 L447.6,166.5 L448.4,167.3 L449.4,167.2 L450.4,167.3 L451.4,167.5 L452.3,168.4 L453.2,168.7 L454.2,169.0 L455.1,169.6 L456.1,169.7 L457.0,170.1 L458.0,170.4 L459.1,170.3 L460.0,171.1 L461.0,170.8 L461.9,171.6 L463.1,170.6 L464.2,169.8 L465.1,170.4 L466.1,170.6 L467.2,169.7 L468.2,170.5 L469.2,170.4 L470.1,171.3 L471.1,171.9 L472.1,171.7 L473.1,172.3 L474.0,172.5 L475.0,172.5 L476.1,171.9 L477.1,171.4 L478.2,170.9 L479.1,171.4 L480.0,172.3 L481.0,171.9 L481.8,173.6 L482.7,173.5 L482.9,174.3 L483.5,174.4 L485.0,173.9 L486.2,174.1 L486.8,175.0 L487.6,175.9 L488.8,176.8 L490.2,176.7 L491.2,176.2 L492.2,175.9 L492.9,174.3 L494.2,175.5 L494.8,173.9 L496.0,174.4 L497.1,174.5 L498.0,174.2 L499.2,174.4 L499.9,173.4 L501.1,173.8 L501.7,172.4 L502.7,172.3 L503.2,170.2 L504.4,170.5 L505.5,170.9 L506.6,172.6 L507.6,171.9 L508.6,172.1 L509.6,172.8 L510.6,172.2 L511.6,171.8 L512.5,169.9 L513.5,170.0 L514.4,169.0 L515.4,168.8 L516.5,169.1 L517.5,169.8 L518.5,170.5 L519.5,170.2 L520.3,171.8 L521.3,172.0 L522.3,171.9 L523.3,172.2 L524.3,172.2 L525.4,171.5 L526.5,171.1 L527.5,171.4 L528.3,172.4 L529.3,172.5 L530.4,172.1 L531.3,172.7 L532.3,174.3 L533.3,174.1 L534.3,173.3 L535.3,173.1 L536.4,172.1 L537.4,171.9 L538.4,171.7 L539.3,172.4 L540.4,171.9 L541.3,172.9 L542.3,172.9 L543.4,172.3 L544.3,173.3 L545.3,172.2 L546.4,171.7 L547.3,171.6 L548.3,171.5 L549.3,170.8 L550.3,172.3 L551.3,171.6 L552.4,173.7 L553.3,171.8 L554.3,172.6 L555.4,172.9 L556.3,172.4 L557.3,171.8 L558.4,173.1 L559.4,172.9 L560.4,173.0 L561.3,171.5 L562.3,172.0 L563.3,171.5 L564.3,172.2 L565.4,172.4 L566.4,173.3 L567.4,172.4 L568.4,172.9 L569.4,173.1 L570.3,171.7 L571.4,172.3 L572.3,171.1 L573.2,170.9 L574.4,171.6 L575.3,171.1 L576.3,171.3 L577.3,171.1 L578.1,169.7 L579.0,169.3 L580.1,169.4 L581.1,169.1 L582.2,169.9 L583.2,169.4 L584.2,169.8 L584.6,171.2 L585.5,171.8" stroke="#14007f"/>
<path d="M356.6,176.0 L357.0,175.1 L356.8,174.0 L357.2,173.1 L357.2,172.1 L357.7,171.2 L357.5,170.1 L357.8,169.2 L357.8,168.2 L358.1,167.2 L357.9,166.2 L358.0,165.2 L358.5,164.2 L358.6,163.2 L358.2,162.2 L358.3,161.2 L358.4,160.2 L358.6,159.2 L358.7,158.2 L359.3,157.2 L359.5,156.3 L359.7,155.3 L359.6,154.3 L359.7,153.3 L359.3,152.2 L359.1,151.2 L359.4,150.2 L359.5,149.2 L359.6,148.2 L359.5,147.2 L359.5,146.2 L359.5,145.2 L360.1,144.3 L359.5,143.2 L359.7,142.2 L359.8,141.2 L359.8,140.2 L360.1,139.3 L360.4,138.3 L360.6,137.3 L360.4,136.3 L360.6,134.8 L361.3,136.1 L361.4,137.1 L361.6,138.1 L362.0,139.0 L362.2,140.0 L361.9,141.0 L362.1,142.0 L361.9,143.1 L362.2,144.0 L362.6,145.0 L362.5,146.0 L363.0,147.0 L363.3,148.0 L364.0,147.8 L364.6,147.3 L365.1,146.4 L365.9,145.7 L366.2,144.7 L366.6,143.8 L366.6,142.7 L366.6,141.7 L367.2,140.8 L367.3,139.8 L367.9,139.0 L367.8,137.9 L367.8,136.8 L367.9,135.8 L368.8,135.0 L369.4,134.2 L369.9,133.3 L370.0,132.3 L370.4,131.4 L371.3,130.7 L372.1,130.3 L372.7,131.0 L373.2,131.6 L374.1,130.5 L375.0,130.5 L376.0,129.4 L377.0,130.0 L378.0,130.0 L378.9,130.4 L379.9,129.1 L380.9,128.2 L381.9,127.0 L382.9,126.8 L383.9,128.4 L384.9,128.4 L385.9,127.5 L386.9,126.3 L387.9,125.7 L389.6,126.0 L390.6,128.1 L390.8,129.6 L390.8,130.7 L390.6,131.9 L391.4,132.7 L391.9,133.6 L392.4,135.1 L393.5,135.9 L394.9,134.6 L395.9,134.3 L396.7,135.5 L397.9,134.8 L399.8,133.6 L400.2,135.3 L400.6,136.5 L401.0,137.5 L402.1,137.9 L402.6,138.8 L402.7,139.9 L403.4,140.6 L404.1,141.3 L405.1,141.4 L405.8,141.3 L406.5,141.4 L407.5,141.2 L408.6,141.3 L409.5,142.5 L409.8,143.9 L410.4,144.6 L411.5,144.7 L412.6,145.0 L413.1,146.0 L414.0,146.5 L414.7,147.2 L415.2,148.0 L416.1,148.4 L417.0,148.8 L417.9,149.4 L418.7,149.9 L419.2,150.8 L419.3,151.9 L420.3,152.3 L420.6,153.8 L421.5,154.5 L422.7,154.2 L423.6,154.9 L424.3,156.9 L425.3,157.0 L426.4,156.1 L427.5,155.7 L428.5,155.8 L430.1,154.1 L431.0,155.0 L432.0,155.4 L433.3,155.6 L433.3,157.2 L434.7,157.2 L434.5,158.8 L435.6,159.1 L436.3,159.8 L436.9,160.6 L437.7,161.2 L438.3,161.9 L439.1,162.5 L439.9,163.2 L440.8,164.2 L441.9,163.9 L442.9,163.9 L444.0,163.5 L445.0,163.2 L446.0,163.0 L446.9,164.3 L447.8,164.8 L448.8,164.8 L449.9,164.4 L450.5,165.3 L451.9,164.3 L452.5,165.4 L453.0,166.5 L453.7,167.3 L454.3,168.1 L455.6,167.9 L456.3,168.8 L458.1,167.6 L459.0,167.9 L460.0,167.6 L460.7,168.7 L461.7,169.0 L462.6,169.5 L463.7,169.1 L464.6,169.8 L465.6,170.2 L466.6,169.7 L467.7,169.3 L468.7,169.0 L469.6,170.2 L470.9,168.3 L471.7,169.5 L472.7,169.6 L473.6,170.4 L474.3,172.0 L475.5,170.9 L476.2,172.5 L477.4,171.7 L478.5,171.6 L479.5,171.4 L480.5,171.7 L481.5,172.0 L482.7,171.3 L483.9,171.0 L485.0,171.1 L485.6,172.6 L486.6,173.1 L486.8,174.7 L487.0,176.0 L487.7,176.4 L488.5,176.9 L489.2,177.7 L490.0,178.6 L490.1,179.6 L490.2,180.6 L490.0,181.6 L490.2,182.7 L490.9,184.1 L492.0,182.7 L491.9,181.6 L492.3,180.6 L491.8,179.5 L492.1,178.6 L492.2,177.6 L492.2,176.6 L492.3,175.5 L493.4,174.6 L494.2,175.8 L494.8,176.7 L495.4,177.5 L495.9,178.3 L496.1,179.2 L496.7,178.7 L498.0,179.9 L498.4,178.7 L499.1,178.0 L499.2,176.7 L499.7,175.4 L500.6,174.5 L502.1,175.4 L503.4,176.1 L504.3,175.7 L505.4,175.7 L506.5,176.3 L507.1,174.6 L508.2,174.9 L509.0,174.4 L509.9,173.6 L510.9,173.7 L511.9,173.6 L512.9,173.6 L513.9,172.8 L514.9,174.0 L515.9,173.7 L516.9,174.1 L517.9,174.5 L518.9,173.7 L520.0,172.6 L521.0,172.8 L522.1,171.3 L523.2,171.1 L524.3,171.5 L525.6,171.8 L526.0,174.1 L526.1,176.4 L527.4,175.9 L528.4,176.1 L529.2,176.8 L530.4,176.5 L531.6,175.5 L532.3,177.2 L533.3,177.7 L534.3,177.5 L535.2,178.9 L536.2,178.9 L537.2,178.8 L538.3,178.7 L539.3,178.0 L540.4,177.5 L541.3,178.0 L542.3,178.2 L543.1,178.8 L544.3,178.4 L545.3,178.4 L546.6,177.8 L547.4,177.9 L548.0,179.7 L549.0,179.0 L549.9,179.0 L550.9,178.9 L551.9,178.7 L552.8,178.5 L553.6,177.8 L554.5,177.4 L555.6,177.3 L556.5,177.0 L557.6,177.2 L558.6,177.2 L559.4,176.0 L560.4,176.5 L561.4,175.1 L562.4,174.2 L563.4,175.7 L564.4,176.6 L565.4,176.3 L566.4,177.8 L567.4,176.1 L568.4,175.8 L569.4,175.9 L570.4,176.5 L571.5,175.4 L572.6,175.3 L572.8,178.1 L573.9,177.7 L574.8,178.1 L576.3,177.4 L577.7,176.8 L578.6,176.8 L579.1,177.3 L579.2,177.6 L579.9,178.0 L580.4,177.2 L581.1,176.4 L581.5,175.5 L581.8,174.6 L582.7,173.9 L582.6,172.4 L583.9,172.0 L584.8,173.1 L585.0,174.2 L585.6,174.9" stroke="#8c00ff"/>
</g>
<line x1="57" y1="144" x2="82.3" y2="28" stroke="#000" stroke-width="2.8"/>
<polygon points="83.3,22.2 78.2,29.2 85.8,30.4" fill="#000"/>
<rect x="203.7" y="237.3" width="238.7" height="174.7" fill="none" stroke="#636363" stroke-width="1.5"/>
<text x="199.6" y="415.6" font-size="10.2" font-weight="normal" fill="#000" text-anchor="end" textLength="14.9" lengthAdjust="spacingAndGlyphs" >140</text>
<line x1="203.7" y1="362.0" x2="207.2" y2="362.0" stroke="#333" stroke-width="1.2"/>
<text x="199.6" y="365.6" font-size="10.2" font-weight="normal" fill="#000" text-anchor="end" textLength="14.9" lengthAdjust="spacingAndGlyphs" >160</text>
<line x1="203.7" y1="312.0" x2="207.2" y2="312.0" stroke="#333" stroke-width="1.2"/>
<text x="199.6" y="315.6" font-size="10.2" font-weight="normal" fill="#000" text-anchor="end" textLength="14.9" lengthAdjust="spacingAndGlyphs" >180</text>
<line x1="203.7" y1="262.0" x2="207.2" y2="262.0" stroke="#333" stroke-width="1.2"/>
<text x="199.6" y="265.6" font-size="10.2" font-weight="normal" fill="#000" text-anchor="end" textLength="14.9" lengthAdjust="spacingAndGlyphs" >200</text>
<text x="203.7" y="425" font-size="10.2" font-weight="normal" fill="#000" text-anchor="middle" >0</text>
<line x1="278.2" y1="412" x2="278.2" y2="408.5" stroke="#333" stroke-width="1.2"/>
<text x="278.4" y="425" font-size="10.2" font-weight="normal" fill="#000" text-anchor="middle" textLength="16.6" lengthAdjust="spacingAndGlyphs" >&#8722;50</text>
<line x1="352.9" y1="412" x2="352.9" y2="408.5" stroke="#333" stroke-width="1.2"/>
<text x="353.1" y="425" font-size="10.2" font-weight="normal" fill="#000" text-anchor="middle" textLength="21.0" lengthAdjust="spacingAndGlyphs" >&#8722;100</text>
<line x1="427.6" y1="412" x2="427.6" y2="408.5" stroke="#333" stroke-width="1.2"/>
<text x="427.8" y="425" font-size="10.2" font-weight="normal" fill="#000" text-anchor="middle" textLength="21.4" lengthAdjust="spacingAndGlyphs" >&#8722;150</text>
<g transform="translate(180.4,318.6) rotate(-90)"><text x="-65.15" y="0" font-size="13.2" textLength="87" lengthAdjust="spacingAndGlyphs">Peak Position</text><text x="22.6" y="-2.2" font-size="14.5" textLength="8.5" lengthAdjust="spacingAndGlyphs">(</text><text x="30.1" y="0" font-size="13.2" textLength="19.2" lengthAdjust="spacingAndGlyphs">cm</text><rect x="49.4" y="-12.1" width="4.5" height="1.1" fill="#000"/><text x="55.6" y="-7.6" font-size="9" textLength="4.2" lengthAdjust="spacingAndGlyphs">1</text><text x="57.5" y="-2.2" font-size="14.5" textLength="8.5" lengthAdjust="spacingAndGlyphs">)</text></g>
<text x="298.5" y="442.4" font-size="14.5" font-weight="normal" fill="#000" text-anchor="start" textLength="19.5" lengthAdjust="spacingAndGlyphs" >&#916;V</text>
<text x="318" y="446.5" font-size="8.5" font-weight="normal" fill="#000" text-anchor="start" >g</text>
<text x="327" y="442.4" font-size="14.5" font-weight="normal" fill="#000" text-anchor="start" textLength="20" lengthAdjust="spacingAndGlyphs" >(V)</text>
<text x="212.5" y="254.9" font-size="12.5" font-weight="bold" fill="#000000" text-anchor="start" textLength="22.6" lengthAdjust="spacingAndGlyphs" >990</text>
<text x="237.8" y="254.9" font-size="12.2" font-weight="bold" fill="#000000" text-anchor="start" textLength="16.4" lengthAdjust="spacingAndGlyphs" >nm</text>
<text x="212.5" y="268.5" font-size="12.5" font-weight="bold" fill="#ff0000" text-anchor="start" textLength="22.6" lengthAdjust="spacingAndGlyphs" >673</text>
<text x="237.8" y="268.5" font-size="12.2" font-weight="bold" fill="#ff0000" text-anchor="start" textLength="16.4" lengthAdjust="spacingAndGlyphs" >nm</text>
<text x="212.5" y="282.1" font-size="12.5" font-weight="bold" fill="#0000ff" text-anchor="start" textLength="22.6" lengthAdjust="spacingAndGlyphs" >490</text>
<text x="237.8" y="282.1" font-size="12.2" font-weight="bold" fill="#0000ff" text-anchor="start" textLength="16.4" lengthAdjust="spacingAndGlyphs" >nm</text>
<text x="212.5" y="295.7" font-size="12.5" font-weight="bold" fill="#ff8000" text-anchor="start" textLength="22.6" lengthAdjust="spacingAndGlyphs" >300</text>
<text x="237.8" y="295.7" font-size="12.2" font-weight="bold" fill="#ff8000" text-anchor="start" textLength="16.4" lengthAdjust="spacingAndGlyphs" >nm</text>
<text x="212.5" y="309.3" font-size="12.5" font-weight="bold" fill="#008000" text-anchor="start" textLength="22.6" lengthAdjust="spacingAndGlyphs" >186</text>
<text x="237.8" y="309.3" font-size="12.2" font-weight="bold" fill="#008000" text-anchor="start" textLength="16.4" lengthAdjust="spacingAndGlyphs" >nm</text>
<polyline points="236.3,353.4 266.4,330.2 296.3,310.5 326,291.8 355.5,275.3 385.4,263.3 415.3,252.3" fill="none" stroke="#000000" stroke-width="1.6"/>
<circle cx="236.3" cy="353.4" r="3.8" fill="#000000"/>
<circle cx="266.4" cy="330.2" r="3.8" fill="#000000"/>
<circle cx="296.3" cy="310.5" r="3.8" fill="#000000"/>
<circle cx="326" cy="291.8" r="3.8" fill="#000000"/>
<circle cx="355.5" cy="275.3" r="3.8" fill="#000000"/>
<circle cx="385.4" cy="263.3" r="3.8" fill="#000000"/>
<circle cx="415.3" cy="252.3" r="3.8" fill="#000000"/>
<polyline points="266.4,350.8 296.3,333 326,311.3 355.5,310 385.4,298.8 415.3,286.8" fill="none" stroke="#ff0000" stroke-width="1.6"/>
<circle cx="266.4" cy="350.8" r="3.8" fill="#ff0000"/>
<circle cx="296.3" cy="333" r="3.8" fill="#ff0000"/>
<circle cx="326" cy="311.3" r="3.8" fill="#ff0000"/>
<circle cx="355.5" cy="310" r="3.8" fill="#ff0000"/>
<circle cx="385.4" cy="298.8" r="3.8" fill="#ff0000"/>
<circle cx="415.3" cy="286.8" r="3.8" fill="#ff0000"/>
<polyline points="296.3,364.2 326,354.2 355.5,337.9 385.4,327.3 415.3,318.9" fill="none" stroke="#0000ff" stroke-width="1.6"/>
<circle cx="296.3" cy="364.2" r="3.8" fill="#0000ff"/>
<circle cx="326" cy="354.2" r="3.8" fill="#0000ff"/>
<circle cx="355.5" cy="337.9" r="3.8" fill="#0000ff"/>
<circle cx="385.4" cy="327.3" r="3.8" fill="#0000ff"/>
<circle cx="415.3" cy="318.9" r="3.8" fill="#0000ff"/>
<polyline points="236.3,377.8 266.4,366.2 296.3,372.8 326,363.8 355.5,356.8 385.4,345.8 415.3,347.4" fill="none" stroke="#008000" stroke-width="1.6"/>
<circle cx="236.3" cy="377.8" r="3.8" fill="#008000"/>
<circle cx="266.4" cy="366.2" r="3.8" fill="#008000"/>
<circle cx="296.3" cy="372.8" r="3.8" fill="#008000"/>
<circle cx="326" cy="363.8" r="3.8" fill="#008000"/>
<circle cx="355.5" cy="356.8" r="3.8" fill="#008000"/>
<circle cx="385.4" cy="345.8" r="3.8" fill="#008000"/>
<circle cx="415.3" cy="347.4" r="3.8" fill="#008000"/>
<line x1="240.7" y1="384.0" x2="262.0" y2="367.6" stroke="#ff8000" stroke-width="1.6"/>
<line x1="271.1" y1="361.3" x2="291.6" y2="348.8" stroke="#ff8000" stroke-width="1.6"/>
<line x1="301.2" y1="343.5" x2="321.1" y2="333.7" stroke="#ff8000" stroke-width="1.6"/>
<line x1="330.9" y1="328.9" x2="350.6" y2="319.4" stroke="#ff8000" stroke-width="1.6"/>
<line x1="360.5" y1="314.8" x2="380.4" y2="306.2" stroke="#ff8000" stroke-width="1.6"/>
<line x1="390.5" y1="302.0" x2="410.2" y2="294.4" stroke="#ff8000" stroke-width="1.6"/>
<circle cx="236.3" cy="387.4" r="3.8" fill="#ff8000"/>
<circle cx="266.4" cy="364.2" r="3.8" fill="#ff8000"/>
<circle cx="296.3" cy="345.9" r="3.8" fill="#ff8000"/>
<circle cx="326" cy="331.3" r="3.8" fill="#ff8000"/>
<circle cx="355.5" cy="317" r="3.8" fill="#ff8000"/>
<circle cx="385.4" cy="304" r="3.8" fill="#ff8000"/>
<circle cx="415.3" cy="292.4" r="3.8" fill="#ff8000"/>
</svg>
</body></html>
